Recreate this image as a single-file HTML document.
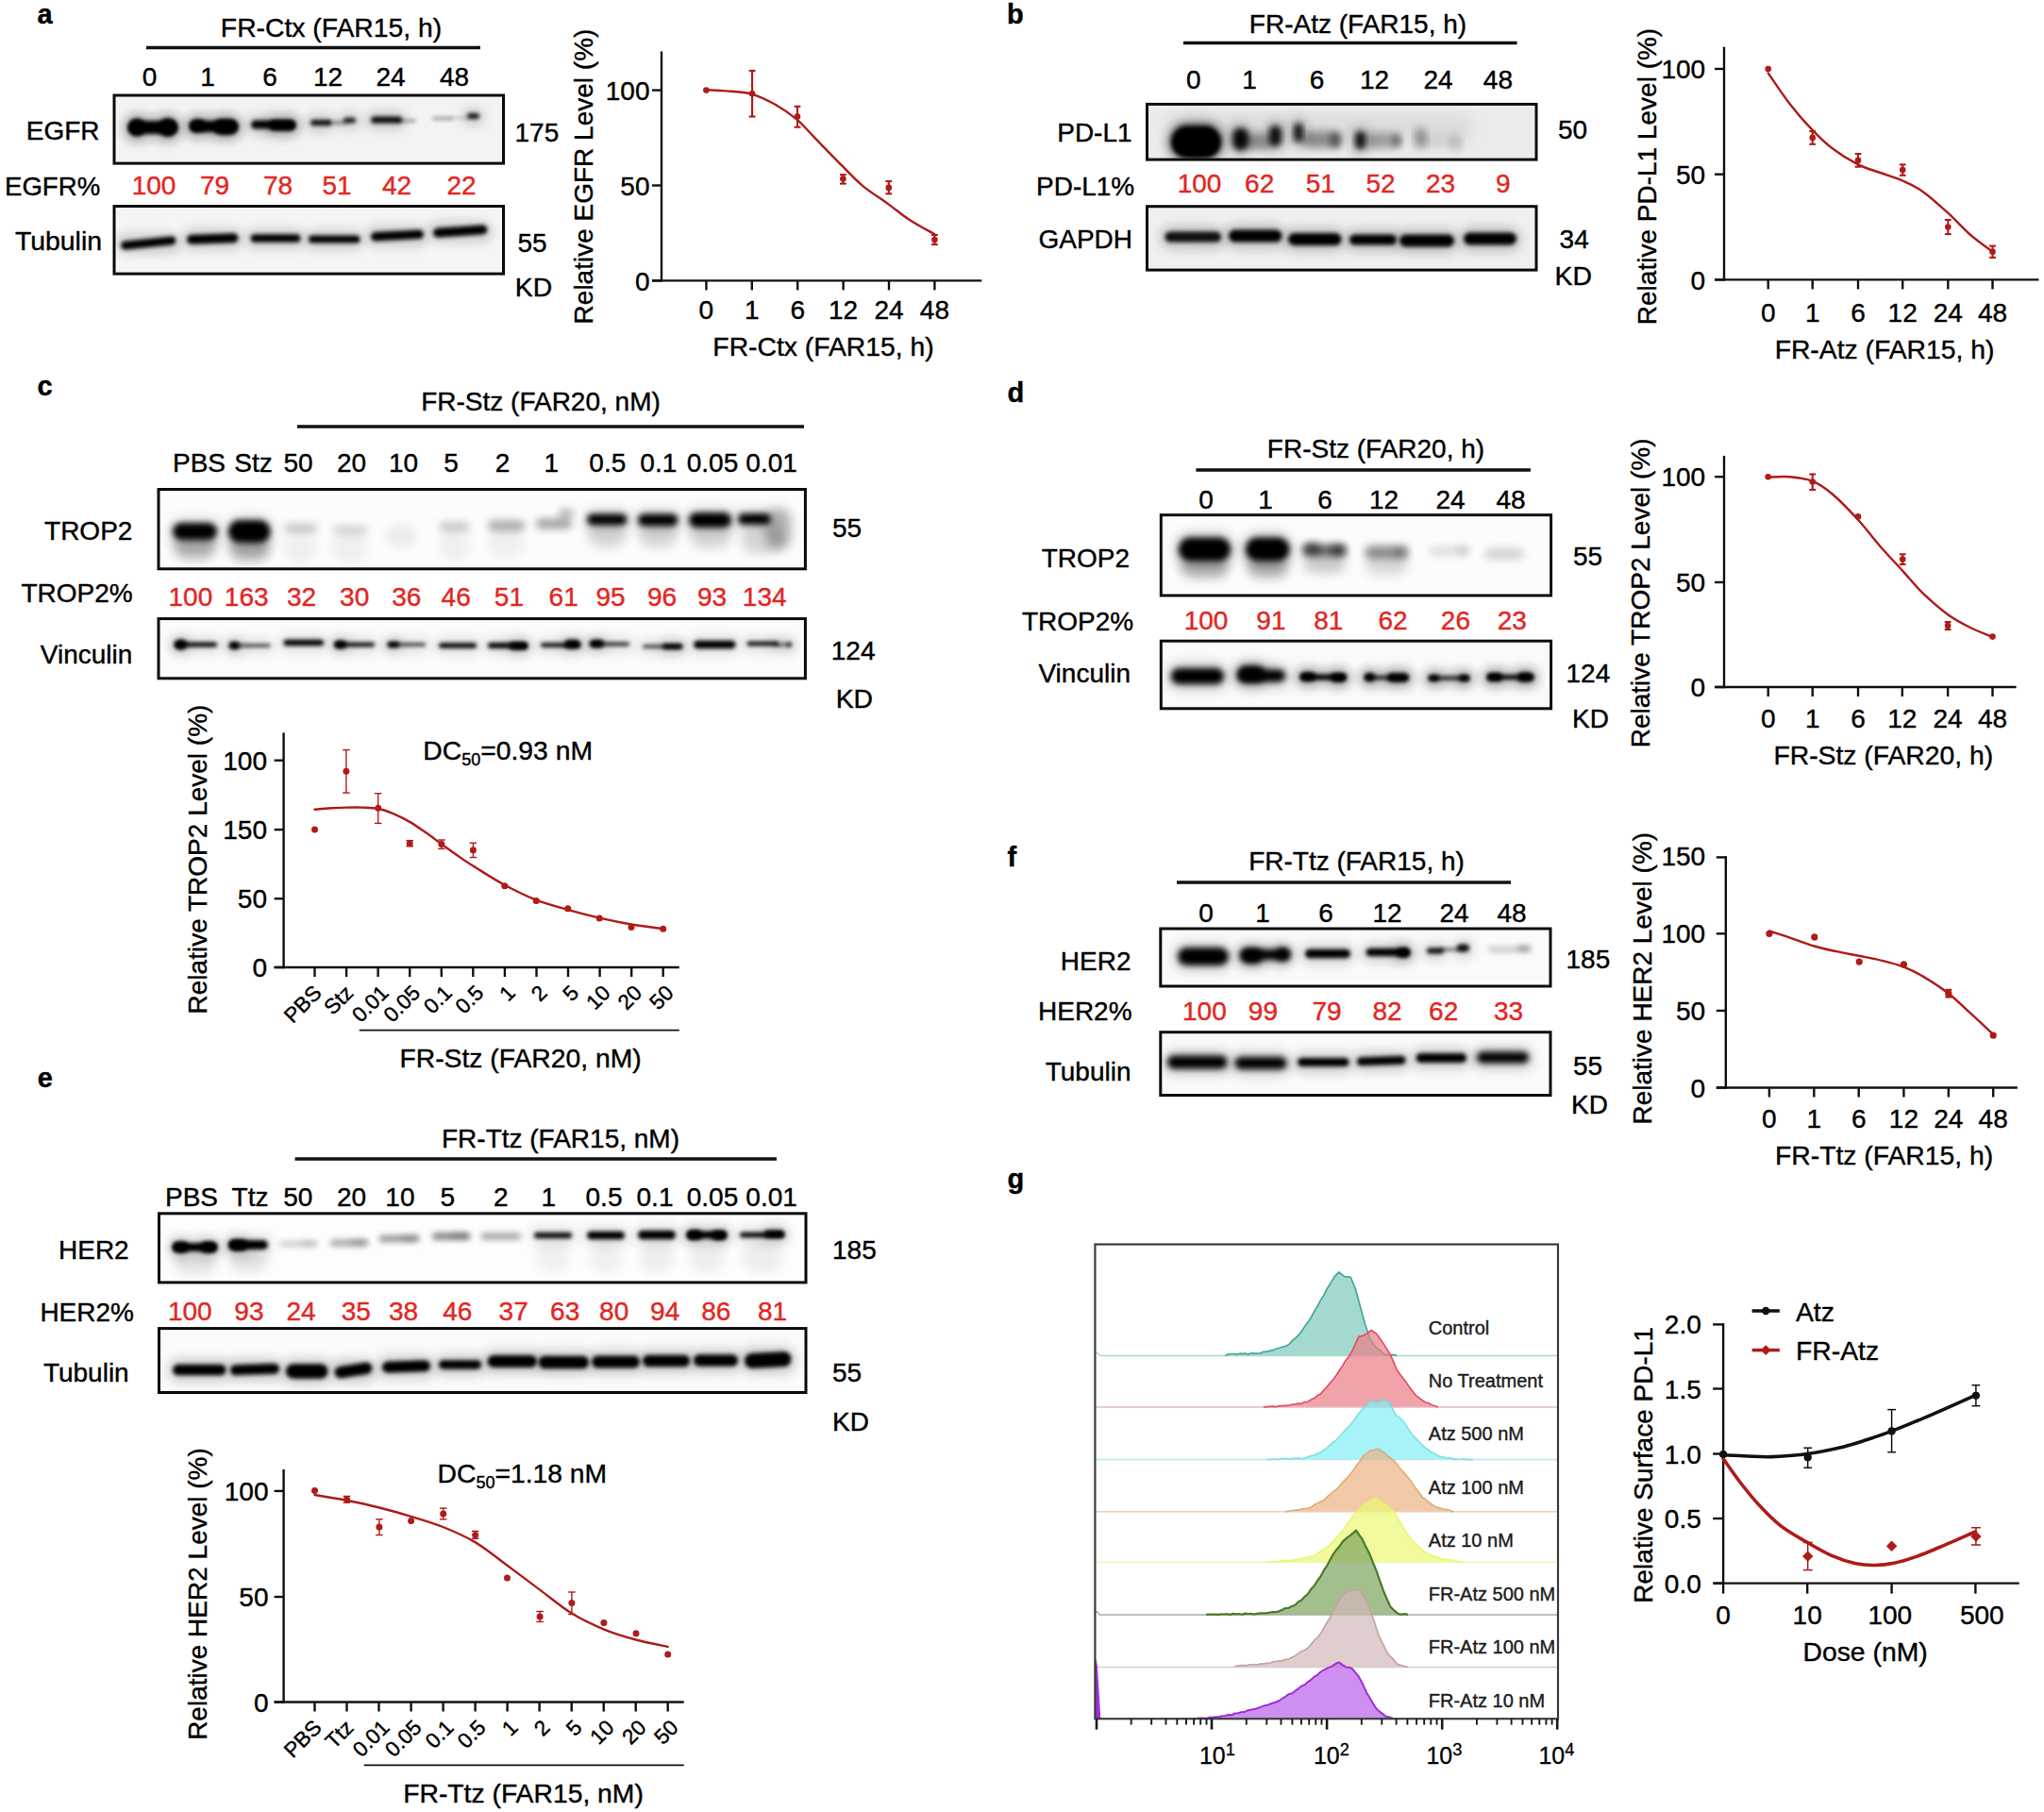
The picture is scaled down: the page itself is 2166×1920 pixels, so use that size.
<!DOCTYPE html>
<html lang="en"><head><meta charset="utf-8"><title>Figure</title>
<style>
html,body{margin:0;padding:0;background:#fff;}
svg{display:block;font-family:"Liberation Sans",Arial,Helvetica,sans-serif;}
</style></head><body>
<svg width="2166" height="1920" viewBox="0 0 2166 1920">
<defs>
<filter id="b2" x="-30%" y="-150%" width="160%" height="400%"><feGaussianBlur stdDeviation="2"/></filter>
<filter id="b3" x="-30%" y="-150%" width="160%" height="400%"><feGaussianBlur stdDeviation="3"/></filter>
<filter id="b4" x="-30%" y="-150%" width="160%" height="400%"><feGaussianBlur stdDeviation="4"/></filter>
<filter id="b6" x="-40%" y="-200%" width="180%" height="500%"><feGaussianBlur stdDeviation="6"/></filter>
<filter id="b9" x="-50%" y="-200%" width="200%" height="500%"><feGaussianBlur stdDeviation="9"/></filter>
</defs>
<rect width="2166" height="1920" fill="#fff"/>

<text x="39.6" y="25.0" font-size="29" font-weight="bold" stroke="#000" stroke-width="0.4">a</text>
<text x="1067.0" y="25.2" font-size="29" font-weight="bold" stroke="#000" stroke-width="0.4">b</text>
<text x="39.6" y="418.8" font-size="29" font-weight="bold" stroke="#000" stroke-width="0.4">c</text>
<text x="1067.4" y="426.4" font-size="29" font-weight="bold" stroke="#000" stroke-width="0.4">d</text>
<text x="39.7" y="1152.4" font-size="29" font-weight="bold" stroke="#000" stroke-width="0.4">e</text>
<text x="1067.6" y="917.9" font-size="29" font-weight="bold" stroke="#000" stroke-width="0.4">f</text>
<text x="1067.4" y="1258.6" font-size="29" font-weight="bold" stroke="#000" stroke-width="0.4">g</text>
<text x="351.0" y="39.2" font-size="28.3" text-anchor="middle" stroke="#000" stroke-width="0.4">FR-Ctx (FAR15, h)</text>
<line x1="155.0" y1="50.5" x2="509.0" y2="50.5" stroke="#111" stroke-width="3.4"/>
<text x="158.5" y="91.3" font-size="28" text-anchor="middle" stroke="#000" stroke-width="0.4">0</text>
<text x="220.0" y="91.3" font-size="28" text-anchor="middle" stroke="#000" stroke-width="0.4">1</text>
<text x="286.0" y="91.3" font-size="28" text-anchor="middle" stroke="#000" stroke-width="0.4">6</text>
<text x="347.5" y="91.3" font-size="28" text-anchor="middle" stroke="#000" stroke-width="0.4">12</text>
<text x="414.0" y="91.3" font-size="28" text-anchor="middle" stroke="#000" stroke-width="0.4">24</text>
<text x="481.5" y="91.3" font-size="28" text-anchor="middle" stroke="#000" stroke-width="0.4">48</text>
<clipPath id="c16"><rect x="121" y="101" width="412.5" height="72.1"/></clipPath>
<rect x="121" y="101" width="412.5" height="72.1" fill="#f3f3f3"/>
<g clip-path="url(#c16)">
<rect x="131.0" y="122.0" width="62.0" height="27.0" rx="13.0" fill="#000" opacity="0.16" filter="url(#b6)"/>
<rect x="131.0" y="119.5" width="28.0" height="32.0" rx="15.5" fill="#000" opacity="0.16" filter="url(#b6)"/>
<rect x="163.0" y="119.0" width="30.0" height="33.0" rx="16.0" fill="#000" opacity="0.16" filter="url(#b6)"/>
<rect x="196.0" y="122.0" width="61.0" height="25.0" rx="12.0" fill="#000" opacity="0.16" filter="url(#b6)"/>
<rect x="221.0" y="120.0" width="36.0" height="30.0" rx="14.5" fill="#000" opacity="0.16" filter="url(#b6)"/>
<rect x="196.0" y="120.5" width="27.0" height="26.0" rx="12.5" fill="#000" opacity="0.16" filter="url(#b6)"/>
<rect x="261.0" y="121.5" width="57.0" height="22.0" rx="10.5" fill="#000" opacity="0.16" filter="url(#b6)"/>
<rect x="280.0" y="121.5" width="38.0" height="24.0" rx="11.5" fill="#000" opacity="0.16" filter="url(#b6)"/>
<rect x="324.0" y="121.0" width="32.0" height="19.0" rx="9.0" fill="#000" opacity="0.16" filter="url(#b6)"/>
<rect x="359.0" y="118.8" width="23.0" height="18.5" rx="8.8" fill="#000" opacity="0.16" filter="url(#b6)"/>
<rect x="388.0" y="117.5" width="43.0" height="20.0" rx="9.5" fill="#000" opacity="0.16" filter="url(#b6)"/>
<rect x="490.0" y="114.0" width="23.0" height="19.0" rx="9.0" fill="#000" opacity="0.16" filter="url(#b6)"/>
<rect x="136.0" y="128.0" width="52.0" height="14.0" rx="7.0" fill="#000" opacity="1.0" filter="url(#b2)"/>
<rect x="136.0" y="125.5" width="18.0" height="19.0" rx="9.0" fill="#000" opacity="1.0" filter="url(#b2)"/>
<rect x="168.0" y="125.0" width="20.0" height="20.0" rx="10.0" fill="#000" opacity="1.0" filter="url(#b2)"/>
<rect x="201.0" y="128.0" width="51.0" height="12.0" rx="6.0" fill="#000" opacity="1.0" filter="url(#b2)"/>
<rect x="226.0" y="126.0" width="26.0" height="17.0" rx="8.5" fill="#000" opacity="1.0" filter="url(#b2)"/>
<rect x="201.0" y="126.5" width="17.0" height="13.0" rx="6.5" fill="#000" opacity="1.0" filter="url(#b2)"/>
<rect x="266.0" y="127.5" width="47.0" height="9.0" rx="4.5" fill="#000" opacity="1.0" filter="url(#b2)"/>
<rect x="285.0" y="127.5" width="28.0" height="11.0" rx="5.5" fill="#000" opacity="1.0" filter="url(#b2)"/>
<rect x="329.0" y="127.0" width="22.0" height="6.0" rx="3.0" fill="#000" opacity="0.95" filter="url(#b2)"/>
<rect x="346.0" y="128.5" width="22.0" height="3.0" rx="1.5" fill="#000" opacity="0.5" filter="url(#b2)"/>
<rect x="364.0" y="124.8" width="13.0" height="5.5" rx="2.8" fill="#000" opacity="0.9" filter="url(#b2)"/>
<rect x="393.0" y="123.5" width="33.0" height="7.0" rx="3.5" fill="#000" opacity="0.95" filter="url(#b2)"/>
<rect x="420.0" y="126.5" width="21.0" height="3.0" rx="1.5" fill="#000" opacity="0.4" filter="url(#b2)"/>
<rect x="458.0" y="123.8" width="22.0" height="3.5" rx="1.8" fill="#000" opacity="0.35" filter="url(#b2)"/>
<rect x="476.0" y="123.8" width="22.0" height="2.5" rx="1.2" fill="#000" opacity="0.2" filter="url(#b2)"/>
<rect x="495.0" y="120.0" width="13.0" height="6.0" rx="3.0" fill="#000" opacity="0.9" filter="url(#b2)"/>
</g>
<rect x="121" y="101" width="412.5" height="72.1" fill="none" stroke="#0a0a0a" stroke-width="3"/>
<text x="105.5" y="148.0" font-size="28" text-anchor="end" stroke="#000" stroke-width="0.4">EGFR</text>
<text x="545.5" y="150.0" font-size="28" stroke="#000" stroke-width="0.4">175</text>
<text x="5.0" y="207.0" font-size="27.6" stroke="#000" stroke-width="0.4">EGFR%</text>
<text x="163.0" y="206.0" font-size="28" text-anchor="middle" fill="#e3261f" stroke="#e3261f" stroke-width="0.4">100</text>
<text x="227.5" y="206.0" font-size="28" text-anchor="middle" fill="#e3261f" stroke="#e3261f" stroke-width="0.4">79</text>
<text x="294.5" y="206.0" font-size="28" text-anchor="middle" fill="#e3261f" stroke="#e3261f" stroke-width="0.4">78</text>
<text x="357.0" y="206.0" font-size="28" text-anchor="middle" fill="#e3261f" stroke="#e3261f" stroke-width="0.4">51</text>
<text x="420.5" y="206.0" font-size="28" text-anchor="middle" fill="#e3261f" stroke="#e3261f" stroke-width="0.4">42</text>
<text x="489.0" y="206.0" font-size="28" text-anchor="middle" fill="#e3261f" stroke="#e3261f" stroke-width="0.4">22</text>
<clipPath id="c58"><rect x="121" y="218.5" width="412.5" height="71.6"/></clipPath>
<rect x="121" y="218.5" width="412.5" height="71.6" fill="#f5f5f5"/>
<g clip-path="url(#c58)">
<rect x="123.0" y="247.0" width="68.5" height="22.0" rx="10.5" fill="#000" opacity="0.16" filter="url(#b6)"/>
<rect x="193.0" y="242.0" width="64.5" height="23.0" rx="11.0" fill="#000" opacity="0.16" filter="url(#b6)"/>
<rect x="260.5" y="242.2" width="63.0" height="21.5" rx="10.2" fill="#000" opacity="0.16" filter="url(#b6)"/>
<rect x="322.0" y="243.5" width="64.5" height="21.0" rx="10.0" fill="#000" opacity="0.16" filter="url(#b6)"/>
<rect x="388.0" y="238.8" width="66.0" height="22.5" rx="10.8" fill="#000" opacity="0.16" filter="url(#b6)"/>
<rect x="454.0" y="234.0" width="67.5" height="23.0" rx="11.0" fill="#000" opacity="0.16" filter="url(#b6)"/>
<rect x="128.0" y="253.0" width="58.5" height="9.0" rx="4.5" fill="#000" opacity="1" filter="url(#b2)" transform="rotate(-6 157.2 257.5)"/>
<rect x="198.0" y="248.0" width="54.5" height="10.0" rx="5.0" fill="#000" opacity="1" filter="url(#b2)" transform="rotate(-2 225.2 253.0)"/>
<rect x="265.5" y="248.2" width="53.0" height="8.5" rx="4.2" fill="#000" opacity="1.0" filter="url(#b2)"/>
<rect x="327.0" y="249.5" width="54.5" height="8.0" rx="4.0" fill="#000" opacity="1.0" filter="url(#b2)"/>
<rect x="393.0" y="244.8" width="56.0" height="9.5" rx="4.8" fill="#000" opacity="1" filter="url(#b2)" transform="rotate(-3 421.0 249.5)"/>
<rect x="459.0" y="240.0" width="57.5" height="10.0" rx="5.0" fill="#000" opacity="1" filter="url(#b2)" transform="rotate(-4 487.8 245.0)"/>
</g>
<rect x="121" y="218.5" width="412.5" height="71.6" fill="none" stroke="#0a0a0a" stroke-width="3"/>
<text x="108.0" y="264.5" font-size="28.4" text-anchor="end" stroke="#000" stroke-width="0.4">Tubulin</text>
<text x="548.4" y="266.5" font-size="28" stroke="#000" stroke-width="0.4">55</text>
<text x="545.8" y="313.8" font-size="28.4" stroke="#000" stroke-width="0.4">KD</text>
<line x1="701.0" y1="54.4" x2="701.0" y2="298.6" stroke="#111" stroke-width="2.4"/>
<line x1="691.0" y1="297.4" x2="1040.3" y2="297.4" stroke="#111" stroke-width="2.4"/>
<line x1="691.0" y1="95.6" x2="701.0" y2="95.6" stroke="#111" stroke-width="2.4"/>
<line x1="691.0" y1="196.5" x2="701.0" y2="196.5" stroke="#111" stroke-width="2.4"/>
<line x1="691.0" y1="297.4" x2="701.0" y2="297.4" stroke="#111" stroke-width="2.4"/>
<line x1="748.4" y1="297.4" x2="748.4" y2="307.4" stroke="#111" stroke-width="2.4"/>
<line x1="796.8" y1="297.4" x2="796.8" y2="307.4" stroke="#111" stroke-width="2.4"/>
<line x1="845.2" y1="297.4" x2="845.2" y2="307.4" stroke="#111" stroke-width="2.4"/>
<line x1="893.6" y1="297.4" x2="893.6" y2="307.4" stroke="#111" stroke-width="2.4"/>
<line x1="942.0" y1="297.4" x2="942.0" y2="307.4" stroke="#111" stroke-width="2.4"/>
<line x1="990.4" y1="297.4" x2="990.4" y2="307.4" stroke="#111" stroke-width="2.4"/>
<text x="688.5" y="307.5" font-size="28" text-anchor="end" stroke="#000" stroke-width="0.4">0</text>
<text x="688.5" y="206.6" font-size="28" text-anchor="end" stroke="#000" stroke-width="0.4">50</text>
<text x="688.5" y="105.7" font-size="28" text-anchor="end" stroke="#000" stroke-width="0.4">100</text>
<text x="748.4" y="338.0" font-size="28" text-anchor="middle" stroke="#000" stroke-width="0.4">0</text>
<text x="796.8" y="338.0" font-size="28" text-anchor="middle" stroke="#000" stroke-width="0.4">1</text>
<text x="845.2" y="338.0" font-size="28" text-anchor="middle" stroke="#000" stroke-width="0.4">6</text>
<text x="893.6" y="338.0" font-size="28" text-anchor="middle" stroke="#000" stroke-width="0.4">12</text>
<text x="942.0" y="338.0" font-size="28" text-anchor="middle" stroke="#000" stroke-width="0.4">24</text>
<text x="990.4" y="338.0" font-size="28" text-anchor="middle" stroke="#000" stroke-width="0.4">48</text>
<text x="872.5" y="376.8" font-size="28.3" text-anchor="middle" stroke="#000" stroke-width="0.4">FR-Ctx (FAR15, h)</text>
<text x="628.0" y="187.0" font-size="28" text-anchor="middle" stroke="#000" stroke-width="0.4" transform="rotate(-90 628.0 187.0)">Relative EGFR Level (%)</text>
<path d="M748.4,95.1 C752.8,95.4 766.5,96.0 774.6,96.8 C782.7,97.6 789.2,97.4 797.1,99.8 C805.0,102.2 814.1,106.5 822.0,111.0 C829.9,115.5 837.4,120.7 844.5,126.7 C851.6,132.8 856.3,138.9 864.5,147.2 C872.6,155.5 884.8,168.1 893.1,176.4 C901.5,184.7 906.2,190.4 914.4,197.1 C922.5,203.8 933.5,210.5 941.8,216.6 C950.1,222.6 956.1,228.0 964.3,233.3 C972.4,238.6 986.1,245.8 990.4,248.3" fill="none" stroke="#ae1b19" stroke-width="2.4" stroke-linecap="round"/>
<circle cx="748.4" cy="95.6" r="3.3" fill="#ae1b19"/>
<line x1="797.1" y1="74.9" x2="797.1" y2="123.5" stroke="#ae1b19" stroke-width="2.1"/>
<line x1="793.7" y1="74.9" x2="800.5" y2="74.9" stroke="#ae1b19" stroke-width="2.1"/>
<line x1="793.7" y1="123.5" x2="800.5" y2="123.5" stroke="#ae1b19" stroke-width="2.1"/>
<circle cx="797.1" cy="99.3" r="3.3" fill="#ae1b19"/>
<line x1="845.0" y1="112.8" x2="845.0" y2="134.7" stroke="#ae1b19" stroke-width="2.1"/>
<line x1="841.6" y1="112.8" x2="848.4" y2="112.8" stroke="#ae1b19" stroke-width="2.1"/>
<line x1="841.6" y1="134.7" x2="848.4" y2="134.7" stroke="#ae1b19" stroke-width="2.1"/>
<circle cx="845.0" cy="123.5" r="3.3" fill="#ae1b19"/>
<line x1="893.4" y1="185.1" x2="893.4" y2="194.6" stroke="#ae1b19" stroke-width="2.1"/>
<line x1="890.0" y1="185.1" x2="896.8" y2="185.1" stroke="#ae1b19" stroke-width="2.1"/>
<line x1="890.0" y1="194.6" x2="896.8" y2="194.6" stroke="#ae1b19" stroke-width="2.1"/>
<circle cx="893.4" cy="189.6" r="3.3" fill="#ae1b19"/>
<line x1="941.8" y1="192.1" x2="941.8" y2="205.3" stroke="#ae1b19" stroke-width="2.1"/>
<line x1="938.4" y1="192.1" x2="945.2" y2="192.1" stroke="#ae1b19" stroke-width="2.1"/>
<line x1="938.4" y1="205.3" x2="945.2" y2="205.3" stroke="#ae1b19" stroke-width="2.1"/>
<circle cx="941.8" cy="198.9" r="3.3" fill="#ae1b19"/>
<line x1="990.4" y1="249.0" x2="990.4" y2="259.0" stroke="#ae1b19" stroke-width="2.1"/>
<line x1="987.0" y1="249.0" x2="993.8" y2="249.0" stroke="#ae1b19" stroke-width="2.1"/>
<line x1="987.0" y1="259.0" x2="993.8" y2="259.0" stroke="#ae1b19" stroke-width="2.1"/>
<circle cx="990.4" cy="254.0" r="3.3" fill="#ae1b19"/>
<text x="1439.0" y="34.5" font-size="28" text-anchor="middle" stroke="#000" stroke-width="0.4">FR-Atz (FAR15, h)</text>
<line x1="1254.0" y1="45.5" x2="1607.6" y2="45.5" stroke="#111" stroke-width="3.4"/>
<text x="1264.7" y="94.0" font-size="28" text-anchor="middle" stroke="#000" stroke-width="0.4">0</text>
<text x="1324.0" y="94.0" font-size="28" text-anchor="middle" stroke="#000" stroke-width="0.4">1</text>
<text x="1395.6" y="94.0" font-size="28" text-anchor="middle" stroke="#000" stroke-width="0.4">6</text>
<text x="1456.5" y="94.0" font-size="28" text-anchor="middle" stroke="#000" stroke-width="0.4">12</text>
<text x="1524.0" y="94.0" font-size="28" text-anchor="middle" stroke="#000" stroke-width="0.4">24</text>
<text x="1587.4" y="94.0" font-size="28" text-anchor="middle" stroke="#000" stroke-width="0.4">48</text>
<clipPath id="c130"><rect x="1215.5" y="110.4" width="412.5" height="58.7"/></clipPath>
<rect x="1215.5" y="110.4" width="412.5" height="58.7" fill="#ebebeb"/>
<g clip-path="url(#c130)">
<rect x="1236.0" y="127.0" width="63.0" height="47.0" rx="23.0" fill="#000" opacity="0.2" filter="url(#b6)"/>
<rect x="1238.0" y="130.0" width="59.0" height="43.0" rx="21.0" fill="#000" opacity="0.2" filter="url(#b6)"/>
<rect x="1301.0" y="129.5" width="27.0" height="37.0" rx="18.0" fill="#000" opacity="0.2" filter="url(#b6)"/>
<rect x="1340.0" y="127.0" width="23.0" height="35.0" rx="17.0" fill="#000" opacity="0.2" filter="url(#b6)"/>
<rect x="1366.0" y="124.5" width="20.0" height="33.0" rx="16.0" fill="#000" opacity="0.2" filter="url(#b6)"/>
<rect x="1431.0" y="133.0" width="21.0" height="32.0" rx="15.5" fill="#000" opacity="0.2" filter="url(#b6)"/>
<rect x="1241.0" y="133.0" width="53.0" height="34.0" rx="17.0" fill="#000" opacity="1" filter="url(#b3)"/>
<rect x="1243.0" y="136.0" width="49.0" height="30.0" rx="15.0" fill="#000" opacity="1" filter="url(#b2)"/>
<rect x="1306.0" y="135.5" width="17.0" height="24.0" rx="8.5" fill="#000" opacity="0.95" filter="url(#b3)"/>
<rect x="1318.0" y="141.0" width="32.0" height="18.0" rx="9.0" fill="#000" opacity="0.36" filter="url(#b4)"/>
<rect x="1345.0" y="133.0" width="13.0" height="22.0" rx="6.5" fill="#000" opacity="0.9" filter="url(#b3)"/>
<rect x="1371.0" y="130.5" width="10.0" height="20.0" rx="5.0" fill="#000" opacity="0.85" filter="url(#b3)"/>
<rect x="1379.0" y="139.0" width="43.0" height="18.0" rx="9.0" fill="#000" opacity="0.38" filter="url(#b4)"/>
<rect x="1409.0" y="140.0" width="12.0" height="17.0" rx="6.0" fill="#000" opacity="0.38" filter="url(#b3)"/>
<rect x="1436.0" y="139.0" width="11.0" height="19.0" rx="5.5" fill="#000" opacity="0.9" filter="url(#b3)"/>
<rect x="1445.0" y="140.5" width="40.0" height="17.0" rx="8.5" fill="#000" opacity="0.3" filter="url(#b4)"/>
<rect x="1475.0" y="142.0" width="10.0" height="14.0" rx="5.0" fill="#000" opacity="0.3" filter="url(#b3)"/>
<rect x="1499.0" y="135.5" width="13.0" height="22.0" rx="6.5" fill="#000" opacity="0.36" filter="url(#b4)"/>
<rect x="1510.0" y="143.0" width="30.0" height="14.0" rx="7.0" fill="#000" opacity="0.08" filter="url(#b4)"/>
<rect x="1537.0" y="142.0" width="12.0" height="18.0" rx="6.0" fill="#000" opacity="0.18" filter="url(#b4)"/>
<rect x="1236.0" y="123.0" width="324.0" height="26.0" rx="13.0" fill="#000" opacity="0.07" filter="url(#b9)"/>
</g>
<rect x="1215.5" y="110.4" width="412.5" height="58.7" fill="none" stroke="#0a0a0a" stroke-width="3"/>
<text x="1199.6" y="150.0" font-size="28" text-anchor="end" stroke="#000" stroke-width="0.4">PD-L1</text>
<text x="1651.0" y="147.0" font-size="28" stroke="#000" stroke-width="0.4">50</text>
<text x="1098.0" y="207.0" font-size="28" stroke="#000" stroke-width="0.4">PD-L1%</text>
<text x="1271.0" y="204.0" font-size="28" text-anchor="middle" fill="#e3261f" stroke="#e3261f" stroke-width="0.4">100</text>
<text x="1334.7" y="204.0" font-size="28" text-anchor="middle" fill="#e3261f" stroke="#e3261f" stroke-width="0.4">62</text>
<text x="1399.3" y="204.0" font-size="28" text-anchor="middle" fill="#e3261f" stroke="#e3261f" stroke-width="0.4">51</text>
<text x="1463.0" y="204.0" font-size="28" text-anchor="middle" fill="#e3261f" stroke="#e3261f" stroke-width="0.4">52</text>
<text x="1526.5" y="204.0" font-size="28" text-anchor="middle" fill="#e3261f" stroke="#e3261f" stroke-width="0.4">23</text>
<text x="1592.7" y="204.0" font-size="28" text-anchor="middle" fill="#e3261f" stroke="#e3261f" stroke-width="0.4">9</text>
<clipPath id="c165"><rect x="1215.5" y="218.7" width="412.5" height="67.4"/></clipPath>
<rect x="1215.5" y="218.7" width="412.5" height="67.4" fill="#f0f0f0"/>
<g clip-path="url(#c165)">
<rect x="1229.5" y="239.5" width="69.5" height="24.0" rx="11.5" fill="#000" opacity="0.2" filter="url(#b6)"/>
<rect x="1297.0" y="237.5" width="66.5" height="26.0" rx="12.5" fill="#000" opacity="0.2" filter="url(#b6)"/>
<rect x="1360.0" y="241.0" width="66.5" height="26.0" rx="12.5" fill="#000" opacity="0.2" filter="url(#b6)"/>
<rect x="1425.0" y="242.5" width="60.0" height="24.0" rx="11.5" fill="#000" opacity="0.2" filter="url(#b6)"/>
<rect x="1478.0" y="242.5" width="68.0" height="26.0" rx="12.5" fill="#000" opacity="0.2" filter="url(#b6)"/>
<rect x="1546.0" y="240.5" width="66.0" height="26.0" rx="12.5" fill="#000" opacity="0.2" filter="url(#b6)"/>
<rect x="1234.5" y="245.5" width="59.5" height="11.0" rx="5.5" fill="#000" opacity="0.93" filter="url(#b2)"/>
<rect x="1302.0" y="243.5" width="56.5" height="13.0" rx="6.5" fill="#000" opacity="1.0" filter="url(#b2)"/>
<rect x="1365.0" y="247.0" width="56.5" height="13.0" rx="6.5" fill="#000" opacity="1.0" filter="url(#b2)"/>
<rect x="1430.0" y="248.5" width="50.0" height="11.0" rx="5.5" fill="#000" opacity="1.0" filter="url(#b2)"/>
<rect x="1483.0" y="248.5" width="58.0" height="13.0" rx="6.5" fill="#000" opacity="1.0" filter="url(#b2)"/>
<rect x="1551.0" y="246.5" width="56.0" height="13.0" rx="6.5" fill="#000" opacity="1.0" filter="url(#b2)"/>
</g>
<rect x="1215.5" y="218.7" width="412.5" height="67.4" fill="none" stroke="#0a0a0a" stroke-width="3"/>
<text x="1200.0" y="263.0" font-size="28" text-anchor="end" stroke="#000" stroke-width="0.4">GAPDH</text>
<text x="1652.6" y="263.0" font-size="28" stroke="#000" stroke-width="0.4">34</text>
<text x="1647.5" y="302.2" font-size="28.4" stroke="#000" stroke-width="0.4">KD</text>
<line x1="1827.0" y1="49.7" x2="1827.0" y2="297.6" stroke="#111" stroke-width="2.4"/>
<line x1="1817.0" y1="296.4" x2="2160.5" y2="296.4" stroke="#111" stroke-width="2.4"/>
<line x1="1817.0" y1="73.0" x2="1827.0" y2="73.0" stroke="#111" stroke-width="2.4"/>
<line x1="1817.0" y1="184.7" x2="1827.0" y2="184.7" stroke="#111" stroke-width="2.4"/>
<line x1="1817.0" y1="296.4" x2="1827.0" y2="296.4" stroke="#111" stroke-width="2.4"/>
<line x1="1873.7" y1="296.4" x2="1873.7" y2="306.4" stroke="#111" stroke-width="2.4"/>
<line x1="1920.7" y1="296.4" x2="1920.7" y2="306.4" stroke="#111" stroke-width="2.4"/>
<line x1="1969.0" y1="296.4" x2="1969.0" y2="306.4" stroke="#111" stroke-width="2.4"/>
<line x1="2016.2" y1="296.4" x2="2016.2" y2="306.4" stroke="#111" stroke-width="2.4"/>
<line x1="2064.3" y1="296.4" x2="2064.3" y2="306.4" stroke="#111" stroke-width="2.4"/>
<line x1="2111.5" y1="296.4" x2="2111.5" y2="306.4" stroke="#111" stroke-width="2.4"/>
<text x="1807.2" y="306.5" font-size="28" text-anchor="end" stroke="#000" stroke-width="0.4">0</text>
<text x="1807.2" y="194.8" font-size="28" text-anchor="end" stroke="#000" stroke-width="0.4">50</text>
<text x="1807.2" y="83.1" font-size="28" text-anchor="end" stroke="#000" stroke-width="0.4">100</text>
<text x="1873.7" y="341.4" font-size="28" text-anchor="middle" stroke="#000" stroke-width="0.4">0</text>
<text x="1920.7" y="341.4" font-size="28" text-anchor="middle" stroke="#000" stroke-width="0.4">1</text>
<text x="1969.0" y="341.4" font-size="28" text-anchor="middle" stroke="#000" stroke-width="0.4">6</text>
<text x="2016.2" y="341.4" font-size="28" text-anchor="middle" stroke="#000" stroke-width="0.4">12</text>
<text x="2064.3" y="341.4" font-size="28" text-anchor="middle" stroke="#000" stroke-width="0.4">24</text>
<text x="2111.5" y="341.4" font-size="28" text-anchor="middle" stroke="#000" stroke-width="0.4">48</text>
<text x="1997.0" y="380.0" font-size="28.3" text-anchor="middle" stroke="#000" stroke-width="0.4">FR-Atz (FAR15, h)</text>
<text x="1755.0" y="187.0" font-size="28" text-anchor="middle" stroke="#000" stroke-width="0.4" transform="rotate(-90 1755.0 187.0)">Relative PD-L1 Level (%)</text>
<path d="M1873.7,77.5 C1877.5,82.8 1888.3,99.4 1896.1,109.4 C1903.9,119.5 1913.1,130.0 1920.7,137.9 C1928.3,145.9 1933.6,151.2 1941.7,157.3 C1949.7,163.4 1960.3,170.0 1969.0,174.4 C1977.8,178.8 1986.3,180.7 1994.1,183.5 C2002.0,186.4 2009.0,188.3 2016.2,191.5 C2023.5,194.7 2029.4,197.2 2037.4,202.9 C2045.5,208.6 2056.0,218.1 2064.3,225.7 C2072.7,233.3 2079.7,241.7 2087.6,248.5 C2095.5,255.4 2107.5,263.7 2111.5,266.8" fill="none" stroke="#ae1b19" stroke-width="2.4" stroke-linecap="round"/>
<circle cx="1873.7" cy="73.0" r="3.3" fill="#ae1b19"/>
<line x1="1920.7" y1="139.1" x2="1920.7" y2="152.8" stroke="#ae1b19" stroke-width="2.1"/>
<line x1="1917.3" y1="139.1" x2="1924.1" y2="139.1" stroke="#ae1b19" stroke-width="2.1"/>
<line x1="1917.3" y1="152.8" x2="1924.1" y2="152.8" stroke="#ae1b19" stroke-width="2.1"/>
<circle cx="1920.7" cy="145.9" r="3.3" fill="#ae1b19"/>
<line x1="1969.0" y1="163.0" x2="1969.0" y2="176.7" stroke="#ae1b19" stroke-width="2.1"/>
<line x1="1965.6" y1="163.0" x2="1972.4" y2="163.0" stroke="#ae1b19" stroke-width="2.1"/>
<line x1="1965.6" y1="176.7" x2="1972.4" y2="176.7" stroke="#ae1b19" stroke-width="2.1"/>
<circle cx="1969.0" cy="169.9" r="3.3" fill="#ae1b19"/>
<line x1="2016.2" y1="174.4" x2="2016.2" y2="185.8" stroke="#ae1b19" stroke-width="2.1"/>
<line x1="2012.8" y1="174.4" x2="2019.6" y2="174.4" stroke="#ae1b19" stroke-width="2.1"/>
<line x1="2012.8" y1="185.8" x2="2019.6" y2="185.8" stroke="#ae1b19" stroke-width="2.1"/>
<circle cx="2016.2" cy="180.1" r="3.3" fill="#ae1b19"/>
<line x1="2064.3" y1="233.0" x2="2064.3" y2="248.1" stroke="#ae1b19" stroke-width="2.1"/>
<line x1="2060.9" y1="233.0" x2="2067.7" y2="233.0" stroke="#ae1b19" stroke-width="2.1"/>
<line x1="2060.9" y1="248.1" x2="2067.7" y2="248.1" stroke="#ae1b19" stroke-width="2.1"/>
<circle cx="2064.3" cy="240.5" r="3.3" fill="#ae1b19"/>
<line x1="2111.5" y1="260.6" x2="2111.5" y2="272.9" stroke="#ae1b19" stroke-width="2.1"/>
<line x1="2108.1" y1="260.6" x2="2114.9" y2="260.6" stroke="#ae1b19" stroke-width="2.1"/>
<line x1="2108.1" y1="272.9" x2="2114.9" y2="272.9" stroke="#ae1b19" stroke-width="2.1"/>
<circle cx="2111.5" cy="266.8" r="3.3" fill="#ae1b19"/>
<text x="573.0" y="435.0" font-size="28" text-anchor="middle" stroke="#000" stroke-width="0.4">FR-Stz (FAR20, nM)</text>
<line x1="315.0" y1="452.0" x2="852.0" y2="452.0" stroke="#111" stroke-width="3.4"/>
<text x="211.0" y="500.0" font-size="28" text-anchor="middle" stroke="#000" stroke-width="0.4">PBS</text>
<text x="268.6" y="500.0" font-size="28" text-anchor="middle" stroke="#000" stroke-width="0.4">Stz</text>
<text x="316.0" y="500.0" font-size="28" text-anchor="middle" stroke="#000" stroke-width="0.4">50</text>
<text x="372.5" y="500.0" font-size="28" text-anchor="middle" stroke="#000" stroke-width="0.4">20</text>
<text x="427.6" y="500.0" font-size="28" text-anchor="middle" stroke="#000" stroke-width="0.4">10</text>
<text x="478.0" y="500.0" font-size="28" text-anchor="middle" stroke="#000" stroke-width="0.4">5</text>
<text x="532.5" y="500.0" font-size="28" text-anchor="middle" stroke="#000" stroke-width="0.4">2</text>
<text x="584.4" y="500.0" font-size="28" text-anchor="middle" stroke="#000" stroke-width="0.4">1</text>
<text x="643.8" y="500.0" font-size="28" text-anchor="middle" stroke="#000" stroke-width="0.4">0.5</text>
<text x="697.8" y="500.0" font-size="28" text-anchor="middle" stroke="#000" stroke-width="0.4">0.1</text>
<text x="755.0" y="500.0" font-size="28" text-anchor="middle" stroke="#000" stroke-width="0.4">0.05</text>
<text x="817.6" y="500.0" font-size="28" text-anchor="middle" stroke="#000" stroke-width="0.4">0.01</text>
<clipPath id="c243"><rect x="168" y="518.5" width="685.4" height="84.3"/></clipPath>
<rect x="168" y="518.5" width="685.4" height="84.3" fill="#fcfcfc"/>
<g clip-path="url(#c243)">
<rect x="178.0" y="548.0" width="57.0" height="31.0" rx="15.0" fill="#000" opacity="0.12" filter="url(#b6)"/>
<rect x="237.0" y="545.0" width="54.5" height="37.0" rx="18.0" fill="#000" opacity="0.12" filter="url(#b6)"/>
<rect x="617.0" y="538.5" width="52.5" height="25.0" rx="12.0" fill="#000" opacity="0.12" filter="url(#b6)"/>
<rect x="671.0" y="538.5" width="52.5" height="26.0" rx="12.5" fill="#000" opacity="0.12" filter="url(#b6)"/>
<rect x="725.0" y="537.0" width="55.0" height="29.0" rx="14.0" fill="#000" opacity="0.12" filter="url(#b6)"/>
<rect x="777.0" y="538.0" width="45.0" height="25.0" rx="12.0" fill="#000" opacity="0.12" filter="url(#b6)"/>
<rect x="183.0" y="554.0" width="47.0" height="18.0" rx="9.0" fill="#000" opacity="1" filter="url(#b3)"/>
<rect x="184.0" y="564.0" width="45.0" height="28.0" rx="14.0" fill="#000" opacity="0.3" filter="url(#b6)"/>
<rect x="242.0" y="551.0" width="44.5" height="24.0" rx="12.0" fill="#000" opacity="1" filter="url(#b3)"/>
<rect x="243.0" y="566.0" width="43.0" height="28.0" rx="14.0" fill="#000" opacity="0.32" filter="url(#b6)"/>
<rect x="301.0" y="555.0" width="35.0" height="9.0" rx="4.5" fill="#000" opacity="0.22" filter="url(#b4)"/>
<rect x="301.0" y="563.0" width="35.0" height="34.0" rx="17.0" fill="#000" opacity="0.05" filter="url(#b6)"/>
<rect x="352.0" y="557.0" width="38.0" height="9.0" rx="4.5" fill="#000" opacity="0.16" filter="url(#b4)"/>
<rect x="352.0" y="563.0" width="38.0" height="34.0" rx="17.0" fill="#000" opacity="0.05" filter="url(#b6)"/>
<rect x="409.0" y="556.0" width="33.0" height="24.0" rx="12.0" fill="#000" opacity="0.06" filter="url(#b4)"/>
<rect x="465.0" y="553.0" width="33.0" height="10.0" rx="5.0" fill="#000" opacity="0.2" filter="url(#b4)"/>
<rect x="465.0" y="561.0" width="33.0" height="34.0" rx="16.5" fill="#000" opacity="0.05" filter="url(#b6)"/>
<rect x="517.0" y="551.5" width="39.5" height="11.0" rx="5.5" fill="#000" opacity="0.32" filter="url(#b4)"/>
<rect x="517.0" y="561.0" width="39.0" height="30.0" rx="15.0" fill="#000" opacity="0.05" filter="url(#b6)"/>
<rect x="568.0" y="550.0" width="38.0" height="10.0" rx="5.0" fill="#000" opacity="0.38" filter="url(#b4)"/>
<rect x="592.0" y="539.5" width="16.0" height="9.0" rx="4.5" fill="#000" opacity="0.3" filter="url(#b4)"/>
<rect x="622.0" y="544.5" width="42.5" height="12.0" rx="6.0" fill="#000" opacity="1" filter="url(#b3)"/>
<rect x="623.0" y="552.0" width="41.0" height="28.0" rx="14.0" fill="#000" opacity="0.15" filter="url(#b6)"/>
<rect x="676.0" y="544.5" width="42.5" height="13.0" rx="6.5" fill="#000" opacity="1" filter="url(#b3)"/>
<rect x="677.0" y="552.0" width="41.0" height="28.0" rx="14.0" fill="#000" opacity="0.15" filter="url(#b6)"/>
<rect x="730.0" y="543.0" width="45.0" height="16.0" rx="8.0" fill="#000" opacity="1" filter="url(#b3)"/>
<rect x="731.0" y="553.0" width="44.0" height="28.0" rx="14.0" fill="#000" opacity="0.15" filter="url(#b6)"/>
<rect x="782.0" y="544.0" width="35.0" height="12.0" rx="6.0" fill="#000" opacity="1" filter="url(#b3)"/>
<rect x="812.0" y="538.0" width="26.0" height="44.0" rx="13.0" fill="#000" opacity="0.3" filter="url(#b6)"/>
<rect x="785.0" y="557.0" width="45.0" height="30.0" rx="15.0" fill="#000" opacity="0.15" filter="url(#b6)"/>
</g>
<rect x="168" y="518.5" width="685.4" height="84.3" fill="none" stroke="#0a0a0a" stroke-width="3"/>
<text x="140.4" y="571.7" font-size="28" text-anchor="end" stroke="#000" stroke-width="0.4">TROP2</text>
<text x="882.0" y="568.6" font-size="28" stroke="#000" stroke-width="0.4">55</text>
<text x="22.5" y="638.0" font-size="28" stroke="#000" stroke-width="0.4">TROP2%</text>
<text x="201.9" y="641.7" font-size="28" text-anchor="middle" fill="#e3261f" stroke="#e3261f" stroke-width="0.4">100</text>
<text x="261.2" y="641.7" font-size="28" text-anchor="middle" fill="#e3261f" stroke="#e3261f" stroke-width="0.4">163</text>
<text x="319.5" y="641.7" font-size="28" text-anchor="middle" fill="#e3261f" stroke="#e3261f" stroke-width="0.4">32</text>
<text x="375.7" y="641.7" font-size="28" text-anchor="middle" fill="#e3261f" stroke="#e3261f" stroke-width="0.4">30</text>
<text x="430.8" y="641.7" font-size="28" text-anchor="middle" fill="#e3261f" stroke="#e3261f" stroke-width="0.4">36</text>
<text x="483.2" y="641.7" font-size="28" text-anchor="middle" fill="#e3261f" stroke="#e3261f" stroke-width="0.4">46</text>
<text x="539.4" y="641.7" font-size="28" text-anchor="middle" fill="#e3261f" stroke="#e3261f" stroke-width="0.4">51</text>
<text x="597.2" y="641.7" font-size="28" text-anchor="middle" fill="#e3261f" stroke="#e3261f" stroke-width="0.4">61</text>
<text x="647.0" y="641.7" font-size="28" text-anchor="middle" fill="#e3261f" stroke="#e3261f" stroke-width="0.4">95</text>
<text x="701.5" y="641.7" font-size="28" text-anchor="middle" fill="#e3261f" stroke="#e3261f" stroke-width="0.4">96</text>
<text x="754.5" y="641.7" font-size="28" text-anchor="middle" fill="#e3261f" stroke="#e3261f" stroke-width="0.4">93</text>
<text x="810.2" y="641.7" font-size="28" text-anchor="middle" fill="#e3261f" stroke="#e3261f" stroke-width="0.4">134</text>
<clipPath id="c293"><rect x="168" y="655.6" width="685.4" height="63.2"/></clipPath>
<rect x="168" y="655.6" width="685.4" height="63.2" fill="#fbfbfb"/>
<g clip-path="url(#c293)">
<rect x="180.0" y="674.5" width="55.0" height="18.0" rx="8.5" fill="#000" opacity="0.1" filter="url(#b6)"/>
<rect x="180.0" y="671.5" width="23.0" height="24.0" rx="11.5" fill="#000" opacity="0.1" filter="url(#b6)"/>
<rect x="238.0" y="676.5" width="53.5" height="16.0" rx="7.5" fill="#000" opacity="0.1" filter="url(#b6)"/>
<rect x="238.0" y="674.0" width="21.0" height="21.0" rx="10.0" fill="#000" opacity="0.1" filter="url(#b6)"/>
<rect x="295.5" y="671.8" width="52.5" height="19.5" rx="9.2" fill="#000" opacity="0.1" filter="url(#b6)"/>
<rect x="349.5" y="674.8" width="52.5" height="17.5" rx="8.2" fill="#000" opacity="0.1" filter="url(#b6)"/>
<rect x="349.5" y="672.8" width="22.5" height="21.5" rx="10.2" fill="#000" opacity="0.1" filter="url(#b6)"/>
<rect x="406.0" y="675.5" width="50.0" height="16.0" rx="7.5" fill="#000" opacity="0.1" filter="url(#b6)"/>
<rect x="406.0" y="674.0" width="22.0" height="19.0" rx="9.0" fill="#000" opacity="0.1" filter="url(#b6)"/>
<rect x="460.0" y="675.2" width="50.0" height="18.5" rx="8.8" fill="#000" opacity="0.1" filter="url(#b6)"/>
<rect x="512.0" y="675.0" width="52.0" height="19.0" rx="9.0" fill="#000" opacity="0.1" filter="url(#b6)"/>
<rect x="535.0" y="674.5" width="29.0" height="21.0" rx="10.0" fill="#000" opacity="0.1" filter="url(#b6)"/>
<rect x="568.0" y="675.2" width="52.0" height="17.5" rx="8.2" fill="#000" opacity="0.1" filter="url(#b6)"/>
<rect x="593.0" y="671.8" width="27.0" height="22.5" rx="10.8" fill="#000" opacity="0.1" filter="url(#b6)"/>
<rect x="620.0" y="674.8" width="52.0" height="16.5" rx="7.8" fill="#000" opacity="0.1" filter="url(#b6)"/>
<rect x="620.0" y="671.8" width="25.0" height="21.5" rx="10.2" fill="#000" opacity="0.1" filter="url(#b6)"/>
<rect x="676.0" y="677.5" width="52.0" height="16.0" rx="7.5" fill="#000" opacity="0.1" filter="url(#b6)"/>
<rect x="697.0" y="676.2" width="31.0" height="18.5" rx="8.8" fill="#000" opacity="0.1" filter="url(#b6)"/>
<rect x="730.0" y="672.8" width="54.5" height="21.5" rx="10.2" fill="#000" opacity="0.1" filter="url(#b6)"/>
<rect x="786.5" y="673.8" width="43.5" height="17.5" rx="8.2" fill="#000" opacity="0.1" filter="url(#b6)"/>
<rect x="815.0" y="675.8" width="28.0" height="15.5" rx="7.2" fill="#000" opacity="0.1" filter="url(#b6)"/>
<rect x="829.0" y="675.0" width="15.0" height="17.0" rx="8.0" fill="#000" opacity="0.1" filter="url(#b6)"/>
<rect x="185.0" y="680.5" width="45.0" height="5.0" rx="2.5" fill="#000" opacity="1.0" filter="url(#b2)"/>
<rect x="185.0" y="677.5" width="13.0" height="11.0" rx="5.5" fill="#000" opacity="1.0" filter="url(#b2)"/>
<rect x="243.0" y="682.5" width="43.5" height="3.0" rx="1.5" fill="#000" opacity="0.85" filter="url(#b2)"/>
<rect x="243.0" y="680.0" width="11.0" height="8.0" rx="4.0" fill="#000" opacity="1.0" filter="url(#b2)"/>
<rect x="300.5" y="677.8" width="42.5" height="6.5" rx="3.2" fill="#000" opacity="1.0" filter="url(#b2)"/>
<rect x="354.5" y="680.8" width="42.5" height="4.5" rx="2.2" fill="#000" opacity="1.0" filter="url(#b2)"/>
<rect x="354.5" y="678.8" width="12.5" height="8.5" rx="4.2" fill="#000" opacity="1.0" filter="url(#b2)"/>
<rect x="411.0" y="681.5" width="40.0" height="3.0" rx="1.5" fill="#000" opacity="0.9" filter="url(#b2)"/>
<rect x="411.0" y="680.0" width="12.0" height="6.0" rx="3.0" fill="#000" opacity="1.0" filter="url(#b2)"/>
<rect x="465.0" y="681.2" width="40.0" height="5.5" rx="2.8" fill="#000" opacity="1.0" filter="url(#b2)"/>
<rect x="517.0" y="681.0" width="42.0" height="6.0" rx="3.0" fill="#000" opacity="1.0" filter="url(#b2)"/>
<rect x="540.0" y="680.5" width="19.0" height="8.0" rx="4.0" fill="#000" opacity="1.0" filter="url(#b2)"/>
<rect x="573.0" y="681.2" width="42.0" height="4.5" rx="2.2" fill="#000" opacity="1.0" filter="url(#b2)"/>
<rect x="598.0" y="677.8" width="17.0" height="9.5" rx="4.8" fill="#000" opacity="1.0" filter="url(#b2)"/>
<rect x="625.0" y="680.8" width="42.0" height="3.5" rx="1.8" fill="#000" opacity="0.95" filter="url(#b2)"/>
<rect x="625.0" y="677.8" width="15.0" height="8.5" rx="4.2" fill="#000" opacity="1.0" filter="url(#b2)"/>
<rect x="681.0" y="683.5" width="42.0" height="3.0" rx="1.5" fill="#000" opacity="0.9" filter="url(#b2)"/>
<rect x="702.0" y="682.2" width="21.0" height="5.5" rx="2.8" fill="#000" opacity="1.0" filter="url(#b2)"/>
<rect x="735.0" y="678.8" width="44.5" height="8.5" rx="4.2" fill="#000" opacity="1.0" filter="url(#b2)"/>
<rect x="791.5" y="679.8" width="33.5" height="4.5" rx="2.2" fill="#000" opacity="1.0" filter="url(#b2)"/>
<rect x="820.0" y="681.8" width="18.0" height="2.5" rx="1.2" fill="#000" opacity="0.8" filter="url(#b2)"/>
<rect x="834.0" y="681.0" width="5.0" height="4.0" rx="2.0" fill="#000" opacity="0.9" filter="url(#b2)"/>
</g>
<rect x="168" y="655.6" width="685.4" height="63.2" fill="none" stroke="#0a0a0a" stroke-width="3"/>
<text x="140.4" y="702.6" font-size="28" text-anchor="end" stroke="#000" stroke-width="0.4">Vinculin</text>
<text x="880.8" y="698.8" font-size="28" stroke="#000" stroke-width="0.4">124</text>
<text x="885.7" y="749.5" font-size="28.4" stroke="#000" stroke-width="0.4">KD</text>
<line x1="300.6" y1="776.4" x2="300.6" y2="1026.2" stroke="#111" stroke-width="2.4"/>
<line x1="290.6" y1="1025.0" x2="719.8" y2="1025.0" stroke="#111" stroke-width="2.4"/>
<line x1="290.6" y1="805.7" x2="300.6" y2="805.7" stroke="#111" stroke-width="2.4"/>
<line x1="290.6" y1="879.1" x2="300.6" y2="879.1" stroke="#111" stroke-width="2.4"/>
<line x1="290.6" y1="952.2" x2="300.6" y2="952.2" stroke="#111" stroke-width="2.4"/>
<line x1="290.6" y1="1025.0" x2="300.6" y2="1025.0" stroke="#111" stroke-width="2.4"/>
<line x1="333.5" y1="1025.0" x2="333.5" y2="1035.0" stroke="#111" stroke-width="2.4"/>
<line x1="367.1" y1="1025.0" x2="367.1" y2="1035.0" stroke="#111" stroke-width="2.4"/>
<line x1="400.6" y1="1025.0" x2="400.6" y2="1035.0" stroke="#111" stroke-width="2.4"/>
<line x1="434.2" y1="1025.0" x2="434.2" y2="1035.0" stroke="#111" stroke-width="2.4"/>
<line x1="467.8" y1="1025.0" x2="467.8" y2="1035.0" stroke="#111" stroke-width="2.4"/>
<line x1="501.3" y1="1025.0" x2="501.3" y2="1035.0" stroke="#111" stroke-width="2.4"/>
<line x1="534.9" y1="1025.0" x2="534.9" y2="1035.0" stroke="#111" stroke-width="2.4"/>
<line x1="568.5" y1="1025.0" x2="568.5" y2="1035.0" stroke="#111" stroke-width="2.4"/>
<line x1="602.0" y1="1025.0" x2="602.0" y2="1035.0" stroke="#111" stroke-width="2.4"/>
<line x1="635.6" y1="1025.0" x2="635.6" y2="1035.0" stroke="#111" stroke-width="2.4"/>
<line x1="669.2" y1="1025.0" x2="669.2" y2="1035.0" stroke="#111" stroke-width="2.4"/>
<line x1="702.7" y1="1025.0" x2="702.7" y2="1035.0" stroke="#111" stroke-width="2.4"/>
<text x="283.0" y="815.8" font-size="28" text-anchor="end" stroke="#000" stroke-width="0.4">100</text>
<text x="283.0" y="889.2" font-size="28" text-anchor="end" stroke="#000" stroke-width="0.4">150</text>
<text x="283.0" y="962.3" font-size="28" text-anchor="end" stroke="#000" stroke-width="0.4">50</text>
<text x="283.0" y="1035.1" font-size="28" text-anchor="end" stroke="#000" stroke-width="0.4">0</text>
<text x="342.0" y="1053.5" font-size="22.5" text-anchor="end" stroke="#000" stroke-width="0.4" transform="rotate(-45 342.0 1053.5)">PBS</text>
<text x="375.6" y="1053.5" font-size="22.5" text-anchor="end" stroke="#000" stroke-width="0.4" transform="rotate(-45 375.6 1053.5)">Stz</text>
<text x="413.1" y="1053.5" font-size="22.5" text-anchor="end" stroke="#000" stroke-width="0.4" transform="rotate(-45 413.1 1053.5)">0.01</text>
<text x="446.7" y="1053.5" font-size="22.5" text-anchor="end" stroke="#000" stroke-width="0.4" transform="rotate(-45 446.7 1053.5)">0.05</text>
<text x="480.3" y="1053.5" font-size="22.5" text-anchor="end" stroke="#000" stroke-width="0.4" transform="rotate(-45 480.3 1053.5)">0.1</text>
<text x="513.8" y="1053.5" font-size="22.5" text-anchor="end" stroke="#000" stroke-width="0.4" transform="rotate(-45 513.8 1053.5)">0.5</text>
<text x="547.4" y="1053.5" font-size="22.5" text-anchor="end" stroke="#000" stroke-width="0.4" transform="rotate(-45 547.4 1053.5)">1</text>
<text x="581.0" y="1053.5" font-size="22.5" text-anchor="end" stroke="#000" stroke-width="0.4" transform="rotate(-45 581.0 1053.5)">2</text>
<text x="614.5" y="1053.5" font-size="22.5" text-anchor="end" stroke="#000" stroke-width="0.4" transform="rotate(-45 614.5 1053.5)">5</text>
<text x="648.1" y="1053.5" font-size="22.5" text-anchor="end" stroke="#000" stroke-width="0.4" transform="rotate(-45 648.1 1053.5)">10</text>
<text x="681.7" y="1053.5" font-size="22.5" text-anchor="end" stroke="#000" stroke-width="0.4" transform="rotate(-45 681.7 1053.5)">20</text>
<text x="715.2" y="1053.5" font-size="22.5" text-anchor="end" stroke="#000" stroke-width="0.4" transform="rotate(-45 715.2 1053.5)">50</text>
<line x1="380.7" y1="1091.6" x2="719.8" y2="1091.6" stroke="#111" stroke-width="1.8"/>
<text x="551.6" y="1130.6" font-size="28.3" text-anchor="middle" stroke="#000" stroke-width="0.4">FR-Stz (FAR20, nM)</text>
<text x="448.3" y="804.6" font-size="28.3" stroke="#000" stroke-width="0.4">DC<tspan font-size="18" dy="6">50</tspan><tspan dy="-6">=0.93 nM</tspan></text>
<text x="218.6" y="910.5" font-size="28" text-anchor="middle" stroke="#000" stroke-width="0.4" transform="rotate(-90 218.6 910.5)">Relative TROP2 Level (%)</text>
<path d="M333.5,857.7 C336.6,857.4 346.5,856.6 352.0,856.2 C357.5,855.9 361.3,855.7 366.7,855.6 C372.0,855.5 378.6,855.4 384.3,855.6 C389.9,855.8 395.0,855.7 400.4,856.8 C405.8,857.9 410.9,859.7 416.6,862.1 C422.2,864.4 428.3,867.5 434.2,870.9 C440.0,874.3 446.1,878.7 451.8,882.6 C457.4,886.5 462.5,890.5 467.9,894.4 C473.3,898.3 478.4,902.2 484.1,906.1 C489.7,910.0 493.2,912.6 501.7,917.8 C510.1,923.1 523.7,931.8 534.8,937.8 C545.9,943.8 557.2,949.3 568.3,953.7 C579.4,958.0 590.3,960.8 601.5,963.9 C612.6,967.1 624.0,970.1 635.2,972.7 C646.5,975.3 657.7,977.6 669.0,979.5 C680.2,981.4 697.1,983.4 702.7,984.2" fill="none" stroke="#ae1b19" stroke-width="2.4" stroke-linecap="round"/>
<circle cx="333.5" cy="879.1" r="3.5" fill="#ae1b19"/>
<line x1="366.9" y1="794.6" x2="366.9" y2="840.1" stroke="#ae1b19" stroke-width="1.4"/>
<line x1="363.1" y1="794.6" x2="370.7" y2="794.6" stroke="#ae1b19" stroke-width="1.4"/>
<line x1="363.1" y1="840.1" x2="370.7" y2="840.1" stroke="#ae1b19" stroke-width="1.4"/>
<circle cx="366.9" cy="817.2" r="3.5" fill="#ae1b19"/>
<line x1="400.7" y1="840.7" x2="400.7" y2="872.4" stroke="#ae1b19" stroke-width="1.4"/>
<line x1="396.9" y1="840.7" x2="404.5" y2="840.7" stroke="#ae1b19" stroke-width="1.4"/>
<line x1="396.9" y1="872.4" x2="404.5" y2="872.4" stroke="#ae1b19" stroke-width="1.4"/>
<circle cx="400.7" cy="856.2" r="3.5" fill="#ae1b19"/>
<line x1="434.2" y1="890.6" x2="434.2" y2="896.7" stroke="#ae1b19" stroke-width="1.4"/>
<line x1="430.4" y1="890.6" x2="438.0" y2="890.6" stroke="#ae1b19" stroke-width="1.4"/>
<line x1="430.4" y1="896.7" x2="438.0" y2="896.7" stroke="#ae1b19" stroke-width="1.4"/>
<circle cx="434.2" cy="893.8" r="3.5" fill="#ae1b19"/>
<line x1="467.9" y1="890.0" x2="467.9" y2="899.4" stroke="#ae1b19" stroke-width="1.4"/>
<line x1="464.1" y1="890.0" x2="471.7" y2="890.0" stroke="#ae1b19" stroke-width="1.4"/>
<line x1="464.1" y1="899.4" x2="471.7" y2="899.4" stroke="#ae1b19" stroke-width="1.4"/>
<circle cx="467.9" cy="894.4" r="3.5" fill="#ae1b19"/>
<line x1="501.4" y1="893.2" x2="501.4" y2="908.5" stroke="#ae1b19" stroke-width="1.4"/>
<line x1="497.6" y1="893.2" x2="505.2" y2="893.2" stroke="#ae1b19" stroke-width="1.4"/>
<line x1="497.6" y1="908.5" x2="505.2" y2="908.5" stroke="#ae1b19" stroke-width="1.4"/>
<circle cx="501.4" cy="900.8" r="3.5" fill="#ae1b19"/>
<circle cx="534.8" cy="938.7" r="3.5" fill="#ae1b19"/>
<circle cx="568.3" cy="954.5" r="3.5" fill="#ae1b19"/>
<circle cx="601.8" cy="962.8" r="3.5" fill="#ae1b19"/>
<circle cx="635.2" cy="973.0" r="3.5" fill="#ae1b19"/>
<circle cx="669.0" cy="982.4" r="3.5" fill="#ae1b19"/>
<circle cx="702.7" cy="984.2" r="3.5" fill="#ae1b19"/>
<text x="594.0" y="1215.8" font-size="28" text-anchor="middle" stroke="#000" stroke-width="0.4">FR-Ttz (FAR15, nM)</text>
<line x1="312.6" y1="1228.0" x2="822.9" y2="1228.0" stroke="#111" stroke-width="3.4"/>
<text x="203.0" y="1278.4" font-size="28" text-anchor="middle" stroke="#000" stroke-width="0.4">PBS</text>
<text x="265.0" y="1278.4" font-size="28" text-anchor="middle" stroke="#000" stroke-width="0.4">Ttz</text>
<text x="315.8" y="1278.4" font-size="28" text-anchor="middle" stroke="#000" stroke-width="0.4">50</text>
<text x="372.5" y="1278.4" font-size="28" text-anchor="middle" stroke="#000" stroke-width="0.4">20</text>
<text x="423.9" y="1278.4" font-size="28" text-anchor="middle" stroke="#000" stroke-width="0.4">10</text>
<text x="474.2" y="1278.4" font-size="28" text-anchor="middle" stroke="#000" stroke-width="0.4">5</text>
<text x="530.9" y="1278.4" font-size="28" text-anchor="middle" stroke="#000" stroke-width="0.4">2</text>
<text x="581.3" y="1278.4" font-size="28" text-anchor="middle" stroke="#000" stroke-width="0.4">1</text>
<text x="640.0" y="1278.4" font-size="28" text-anchor="middle" stroke="#000" stroke-width="0.4">0.5</text>
<text x="694.0" y="1278.4" font-size="28" text-anchor="middle" stroke="#000" stroke-width="0.4">0.1</text>
<text x="755.0" y="1278.4" font-size="28" text-anchor="middle" stroke="#000" stroke-width="0.4">0.05</text>
<text x="817.6" y="1278.4" font-size="28" text-anchor="middle" stroke="#000" stroke-width="0.4">0.01</text>
<clipPath id="c425"><rect x="168.5" y="1285.8" width="685.5" height="73.1"/></clipPath>
<rect x="168.5" y="1285.8" width="685.5" height="73.1" fill="#fdfdfd"/>
<g clip-path="url(#c425)">
<rect x="178.0" y="1311.0" width="57.0" height="22.0" rx="10.5" fill="#000" opacity="0.1" filter="url(#b6)"/>
<rect x="178.0" y="1309.5" width="27.0" height="25.0" rx="12.0" fill="#000" opacity="0.1" filter="url(#b6)"/>
<rect x="207.0" y="1309.5" width="28.0" height="25.0" rx="12.0" fill="#000" opacity="0.1" filter="url(#b6)"/>
<rect x="237.0" y="1308.0" width="52.0" height="23.0" rx="11.0" fill="#000" opacity="0.1" filter="url(#b6)"/>
<rect x="238.0" y="1307.5" width="29.0" height="25.0" rx="12.0" fill="#000" opacity="0.1" filter="url(#b6)"/>
<rect x="561.0" y="1299.8" width="50.0" height="19.5" rx="9.2" fill="#000" opacity="0.1" filter="url(#b6)"/>
<rect x="617.0" y="1298.8" width="50.0" height="21.5" rx="10.2" fill="#000" opacity="0.1" filter="url(#b6)"/>
<rect x="671.0" y="1297.8" width="50.0" height="22.5" rx="10.8" fill="#000" opacity="0.1" filter="url(#b6)"/>
<rect x="723.0" y="1298.5" width="52.0" height="21.0" rx="10.0" fill="#000" opacity="0.1" filter="url(#b6)"/>
<rect x="723.0" y="1297.2" width="26.0" height="23.5" rx="11.2" fill="#000" opacity="0.1" filter="url(#b6)"/>
<rect x="749.0" y="1298.0" width="26.0" height="23.0" rx="11.0" fill="#000" opacity="0.1" filter="url(#b6)"/>
<rect x="779.0" y="1299.8" width="57.0" height="18.5" rx="8.8" fill="#000" opacity="0.1" filter="url(#b6)"/>
<rect x="805.0" y="1297.5" width="31.0" height="21.0" rx="10.0" fill="#000" opacity="0.1" filter="url(#b6)"/>
<rect x="183.0" y="1317.0" width="47.0" height="9.0" rx="4.5" fill="#000" opacity="1.0" filter="url(#b2)"/>
<rect x="183.0" y="1315.5" width="17.0" height="12.0" rx="6.0" fill="#000" opacity="1.0" filter="url(#b2)"/>
<rect x="212.0" y="1315.5" width="18.0" height="12.0" rx="6.0" fill="#000" opacity="1.0" filter="url(#b2)"/>
<rect x="185.0" y="1326.0" width="44.0" height="24.0" rx="12.0" fill="#000" opacity="0.1" filter="url(#b6)"/>
<rect x="242.0" y="1314.0" width="42.0" height="10.0" rx="5.0" fill="#000" opacity="1.0" filter="url(#b2)"/>
<rect x="243.0" y="1313.5" width="19.0" height="12.0" rx="6.0" fill="#000" opacity="1.0" filter="url(#b2)"/>
<rect x="243.0" y="1324.0" width="40.0" height="24.0" rx="12.0" fill="#000" opacity="0.1" filter="url(#b6)"/>
<rect x="296.0" y="1315.0" width="40.0" height="6.0" rx="3.0" fill="#000" opacity="0.2" filter="url(#b3)"/>
<rect x="320.0" y="1314.5" width="16.0" height="5.0" rx="2.5" fill="#000" opacity="0.12" filter="url(#b3)"/>
<rect x="350.0" y="1313.5" width="40.0" height="7.0" rx="3.5" fill="#000" opacity="0.35" filter="url(#b3)"/>
<rect x="372.0" y="1313.0" width="18.0" height="6.0" rx="3.0" fill="#000" opacity="0.15" filter="url(#b3)"/>
<rect x="401.5" y="1309.0" width="42.5" height="7.0" rx="3.5" fill="#000" opacity="0.42" filter="url(#b3)"/>
<rect x="425.0" y="1308.5" width="19.0" height="6.0" rx="3.0" fill="#000" opacity="0.15" filter="url(#b3)"/>
<rect x="458.0" y="1306.5" width="40.0" height="7.0" rx="3.5" fill="#000" opacity="0.52" filter="url(#b3)"/>
<rect x="478.0" y="1306.0" width="20.0" height="6.0" rx="3.0" fill="#000" opacity="0.15" filter="url(#b3)"/>
<rect x="509.5" y="1306.5" width="42.5" height="7.0" rx="3.5" fill="#000" opacity="0.36" filter="url(#b3)"/>
<rect x="566.0" y="1305.8" width="40.0" height="6.5" rx="3.2" fill="#000" opacity="0.92" filter="url(#b2)"/>
<rect x="568.0" y="1315.0" width="36.0" height="34.0" rx="17.0" fill="#000" opacity="0.05" filter="url(#b6)"/>
<rect x="622.0" y="1304.8" width="40.0" height="8.5" rx="4.2" fill="#000" opacity="1.0" filter="url(#b2)"/>
<rect x="624.0" y="1315.0" width="36.0" height="34.0" rx="17.0" fill="#000" opacity="0.05" filter="url(#b6)"/>
<rect x="676.0" y="1303.8" width="40.0" height="9.5" rx="4.8" fill="#000" opacity="1.0" filter="url(#b2)"/>
<rect x="678.0" y="1315.0" width="36.0" height="34.0" rx="17.0" fill="#000" opacity="0.06" filter="url(#b6)"/>
<rect x="728.0" y="1304.5" width="42.0" height="8.0" rx="4.0" fill="#000" opacity="1.0" filter="url(#b2)"/>
<rect x="728.0" y="1303.2" width="16.0" height="10.5" rx="5.2" fill="#000" opacity="1.0" filter="url(#b2)"/>
<rect x="754.0" y="1304.0" width="16.0" height="10.0" rx="5.0" fill="#000" opacity="1.0" filter="url(#b2)"/>
<rect x="730.0" y="1315.0" width="38.0" height="34.0" rx="17.0" fill="#000" opacity="0.06" filter="url(#b6)"/>
<rect x="784.0" y="1305.8" width="47.0" height="5.5" rx="2.8" fill="#000" opacity="1.0" filter="url(#b2)"/>
<rect x="810.0" y="1303.5" width="21.0" height="8.0" rx="4.0" fill="#000" opacity="1.0" filter="url(#b2)"/>
<rect x="786.0" y="1315.0" width="43.0" height="34.0" rx="17.0" fill="#000" opacity="0.06" filter="url(#b6)"/>
</g>
<rect x="168.5" y="1285.8" width="685.5" height="73.1" fill="none" stroke="#0a0a0a" stroke-width="3"/>
<text x="136.7" y="1334.0" font-size="28" text-anchor="end" stroke="#000" stroke-width="0.4">HER2</text>
<text x="882.0" y="1334.0" font-size="28" stroke="#000" stroke-width="0.4">185</text>
<text x="42.4" y="1400.0" font-size="28" stroke="#000" stroke-width="0.4">HER2%</text>
<text x="201.3" y="1399.0" font-size="28" text-anchor="middle" fill="#e3261f" stroke="#e3261f" stroke-width="0.4">100</text>
<text x="263.9" y="1399.0" font-size="28" text-anchor="middle" fill="#e3261f" stroke="#e3261f" stroke-width="0.4">93</text>
<text x="319.0" y="1399.0" font-size="28" text-anchor="middle" fill="#e3261f" stroke="#e3261f" stroke-width="0.4">24</text>
<text x="377.3" y="1399.0" font-size="28" text-anchor="middle" fill="#e3261f" stroke="#e3261f" stroke-width="0.4">35</text>
<text x="427.6" y="1399.0" font-size="28" text-anchor="middle" fill="#e3261f" stroke="#e3261f" stroke-width="0.4">38</text>
<text x="484.8" y="1399.0" font-size="28" text-anchor="middle" fill="#e3261f" stroke="#e3261f" stroke-width="0.4">46</text>
<text x="544.2" y="1399.0" font-size="28" text-anchor="middle" fill="#e3261f" stroke="#e3261f" stroke-width="0.4">37</text>
<text x="598.7" y="1399.0" font-size="28" text-anchor="middle" fill="#e3261f" stroke="#e3261f" stroke-width="0.4">63</text>
<text x="650.7" y="1399.0" font-size="28" text-anchor="middle" fill="#e3261f" stroke="#e3261f" stroke-width="0.4">80</text>
<text x="704.7" y="1399.0" font-size="28" text-anchor="middle" fill="#e3261f" stroke="#e3261f" stroke-width="0.4">94</text>
<text x="758.8" y="1399.0" font-size="28" text-anchor="middle" fill="#e3261f" stroke="#e3261f" stroke-width="0.4">86</text>
<text x="818.6" y="1399.0" font-size="28" text-anchor="middle" fill="#e3261f" stroke="#e3261f" stroke-width="0.4">81</text>
<clipPath id="c487"><rect x="168.5" y="1407.6" width="685.5" height="67.9"/></clipPath>
<rect x="168.5" y="1407.6" width="685.5" height="67.9" fill="#fafafa"/>
<g clip-path="url(#c487)">
<rect x="178.0" y="1439.8" width="66.5" height="24.5" rx="11.8" fill="#000" opacity="0.18" filter="url(#b6)"/>
<rect x="239.0" y="1439.5" width="62.0" height="24.0" rx="11.5" fill="#000" opacity="0.18" filter="url(#b6)"/>
<rect x="298.0" y="1439.2" width="54.5" height="28.5" rx="13.8" fill="#000" opacity="0.18" filter="url(#b6)"/>
<rect x="349.5" y="1439.8" width="50.0" height="25.5" rx="12.2" fill="#000" opacity="0.18" filter="url(#b6)"/>
<rect x="400.0" y="1436.0" width="61.0" height="25.0" rx="12.0" fill="#000" opacity="0.18" filter="url(#b6)"/>
<rect x="460.0" y="1435.2" width="55.0" height="22.5" rx="10.8" fill="#000" opacity="0.18" filter="url(#b6)"/>
<rect x="511.5" y="1430.0" width="62.5" height="26.0" rx="12.5" fill="#000" opacity="0.18" filter="url(#b6)"/>
<rect x="565.5" y="1430.8" width="63.5" height="26.5" rx="12.8" fill="#000" opacity="0.18" filter="url(#b6)"/>
<rect x="622.0" y="1430.5" width="61.0" height="26.0" rx="12.5" fill="#000" opacity="0.18" filter="url(#b6)"/>
<rect x="676.0" y="1429.8" width="60.0" height="25.5" rx="12.2" fill="#000" opacity="0.18" filter="url(#b6)"/>
<rect x="730.0" y="1429.2" width="57.0" height="25.5" rx="12.2" fill="#000" opacity="0.18" filter="url(#b6)"/>
<rect x="784.0" y="1427.0" width="59.5" height="29.0" rx="14.0" fill="#000" opacity="0.18" filter="url(#b6)"/>
<rect x="183.0" y="1445.8" width="56.5" height="11.5" rx="5.8" fill="#000" opacity="1.0" filter="url(#b2)"/>
<rect x="244.0" y="1445.5" width="52.0" height="11.0" rx="5.5" fill="#000" opacity="1" filter="url(#b2)" transform="rotate(-2 270.0 1451.0)"/>
<rect x="303.0" y="1445.2" width="44.5" height="15.5" rx="7.8" fill="#000" opacity="1.0" filter="url(#b2)"/>
<rect x="354.5" y="1445.8" width="40.0" height="12.5" rx="6.2" fill="#000" opacity="1" filter="url(#b2)" transform="rotate(-9 374.5 1452.0)"/>
<rect x="405.0" y="1442.0" width="51.0" height="12.0" rx="6.0" fill="#000" opacity="1" filter="url(#b2)" transform="rotate(-2 430.5 1448.0)"/>
<rect x="465.0" y="1441.2" width="45.0" height="9.5" rx="4.8" fill="#000" opacity="1.0" filter="url(#b2)"/>
<rect x="516.5" y="1436.0" width="52.5" height="13.0" rx="6.5" fill="#000" opacity="1.0" filter="url(#b2)"/>
<rect x="570.5" y="1436.8" width="53.5" height="13.5" rx="6.8" fill="#000" opacity="1.0" filter="url(#b2)"/>
<rect x="627.0" y="1436.5" width="51.0" height="13.0" rx="6.5" fill="#000" opacity="1.0" filter="url(#b2)"/>
<rect x="681.0" y="1435.8" width="50.0" height="12.5" rx="6.2" fill="#000" opacity="1.0" filter="url(#b2)"/>
<rect x="735.0" y="1435.2" width="47.0" height="12.5" rx="6.2" fill="#000" opacity="1.0" filter="url(#b2)"/>
<rect x="789.0" y="1433.0" width="49.5" height="16.0" rx="8.0" fill="#000" opacity="1" filter="url(#b2)" transform="rotate(-3 813.8 1441.0)"/>
</g>
<rect x="168.5" y="1407.6" width="685.5" height="67.9" fill="none" stroke="#0a0a0a" stroke-width="3"/>
<text x="136.7" y="1463.8" font-size="28" text-anchor="end" stroke="#000" stroke-width="0.4">Tubulin</text>
<text x="882.0" y="1463.8" font-size="28" stroke="#000" stroke-width="0.4">55</text>
<text x="882.0" y="1515.7" font-size="28" stroke="#000" stroke-width="0.4">KD</text>
<line x1="300.6" y1="1557.0" x2="300.6" y2="1804.7" stroke="#111" stroke-width="2.4"/>
<line x1="290.6" y1="1803.5" x2="724.7" y2="1803.5" stroke="#111" stroke-width="2.4"/>
<line x1="290.6" y1="1579.9" x2="300.6" y2="1579.9" stroke="#111" stroke-width="2.4"/>
<line x1="290.6" y1="1692.0" x2="300.6" y2="1692.0" stroke="#111" stroke-width="2.4"/>
<line x1="290.6" y1="1803.5" x2="300.6" y2="1803.5" stroke="#111" stroke-width="2.4"/>
<line x1="333.5" y1="1803.5" x2="333.5" y2="1813.5" stroke="#111" stroke-width="2.4"/>
<line x1="367.5" y1="1803.5" x2="367.5" y2="1813.5" stroke="#111" stroke-width="2.4"/>
<line x1="401.5" y1="1803.5" x2="401.5" y2="1813.5" stroke="#111" stroke-width="2.4"/>
<line x1="435.6" y1="1803.5" x2="435.6" y2="1813.5" stroke="#111" stroke-width="2.4"/>
<line x1="469.6" y1="1803.5" x2="469.6" y2="1813.5" stroke="#111" stroke-width="2.4"/>
<line x1="503.6" y1="1803.5" x2="503.6" y2="1813.5" stroke="#111" stroke-width="2.4"/>
<line x1="537.6" y1="1803.5" x2="537.6" y2="1813.5" stroke="#111" stroke-width="2.4"/>
<line x1="571.6" y1="1803.5" x2="571.6" y2="1813.5" stroke="#111" stroke-width="2.4"/>
<line x1="605.7" y1="1803.5" x2="605.7" y2="1813.5" stroke="#111" stroke-width="2.4"/>
<line x1="639.7" y1="1803.5" x2="639.7" y2="1813.5" stroke="#111" stroke-width="2.4"/>
<line x1="673.7" y1="1803.5" x2="673.7" y2="1813.5" stroke="#111" stroke-width="2.4"/>
<line x1="707.7" y1="1803.5" x2="707.7" y2="1813.5" stroke="#111" stroke-width="2.4"/>
<text x="284.5" y="1590.0" font-size="28" text-anchor="end" stroke="#000" stroke-width="0.4">100</text>
<text x="284.5" y="1702.1" font-size="28" text-anchor="end" stroke="#000" stroke-width="0.4">50</text>
<text x="284.5" y="1813.6" font-size="28" text-anchor="end" stroke="#000" stroke-width="0.4">0</text>
<text x="342.0" y="1832.0" font-size="22.5" text-anchor="end" stroke="#000" stroke-width="0.4" transform="rotate(-45 342.0 1832.0)">PBS</text>
<text x="376.0" y="1832.0" font-size="22.5" text-anchor="end" stroke="#000" stroke-width="0.4" transform="rotate(-45 376.0 1832.0)">Ttz</text>
<text x="414.0" y="1832.0" font-size="22.5" text-anchor="end" stroke="#000" stroke-width="0.4" transform="rotate(-45 414.0 1832.0)">0.01</text>
<text x="448.1" y="1832.0" font-size="22.5" text-anchor="end" stroke="#000" stroke-width="0.4" transform="rotate(-45 448.1 1832.0)">0.05</text>
<text x="482.1" y="1832.0" font-size="22.5" text-anchor="end" stroke="#000" stroke-width="0.4" transform="rotate(-45 482.1 1832.0)">0.1</text>
<text x="516.1" y="1832.0" font-size="22.5" text-anchor="end" stroke="#000" stroke-width="0.4" transform="rotate(-45 516.1 1832.0)">0.5</text>
<text x="550.1" y="1832.0" font-size="22.5" text-anchor="end" stroke="#000" stroke-width="0.4" transform="rotate(-45 550.1 1832.0)">1</text>
<text x="584.1" y="1832.0" font-size="22.5" text-anchor="end" stroke="#000" stroke-width="0.4" transform="rotate(-45 584.1 1832.0)">2</text>
<text x="618.2" y="1832.0" font-size="22.5" text-anchor="end" stroke="#000" stroke-width="0.4" transform="rotate(-45 618.2 1832.0)">5</text>
<text x="652.2" y="1832.0" font-size="22.5" text-anchor="end" stroke="#000" stroke-width="0.4" transform="rotate(-45 652.2 1832.0)">10</text>
<text x="686.2" y="1832.0" font-size="22.5" text-anchor="end" stroke="#000" stroke-width="0.4" transform="rotate(-45 686.2 1832.0)">20</text>
<text x="720.2" y="1832.0" font-size="22.5" text-anchor="end" stroke="#000" stroke-width="0.4" transform="rotate(-45 720.2 1832.0)">50</text>
<line x1="385.7" y1="1870.4" x2="724.7" y2="1870.4" stroke="#111" stroke-width="1.8"/>
<text x="554.5" y="1909.6" font-size="28.3" text-anchor="middle" stroke="#000" stroke-width="0.4">FR-Ttz (FAR15, nM)</text>
<text x="463.5" y="1570.6" font-size="28.3" stroke="#000" stroke-width="0.4">DC<tspan font-size="18" dy="6">50</tspan><tspan dy="-6">=1.18 nM</tspan></text>
<text x="218.6" y="1689.0" font-size="28" text-anchor="middle" stroke="#000" stroke-width="0.4" transform="rotate(-90 218.6 1689.0)">Relative HER2 Level (%)</text>
<path d="M333.5,1584.0 C339.1,1584.9 355.8,1587.6 367.2,1589.8 C378.6,1592.1 390.5,1594.6 401.9,1597.5 C413.3,1600.3 424.4,1603.4 435.6,1606.9 C446.9,1610.3 458.1,1613.5 469.4,1618.0 C480.6,1622.5 491.9,1627.2 503.1,1633.9 C514.4,1640.6 525.4,1649.8 536.9,1658.2 C548.4,1666.7 560.6,1676.1 572.1,1684.6 C583.6,1693.2 594.6,1702.6 605.9,1709.6 C617.1,1716.5 628.3,1721.7 639.6,1726.3 C651.0,1731.0 662.6,1734.4 674.0,1737.5 C685.3,1740.6 702.1,1743.6 707.7,1744.8" fill="none" stroke="#ae1b19" stroke-width="2.4" stroke-linecap="round"/>
<circle cx="333.5" cy="1579.6" r="3.5" fill="#ae1b19"/>
<line x1="367.5" y1="1585.4" x2="367.5" y2="1592.2" stroke="#ae1b19" stroke-width="1.4"/>
<line x1="363.7" y1="1585.4" x2="371.3" y2="1585.4" stroke="#ae1b19" stroke-width="1.4"/>
<line x1="363.7" y1="1592.2" x2="371.3" y2="1592.2" stroke="#ae1b19" stroke-width="1.4"/>
<circle cx="367.5" cy="1588.7" r="3.5" fill="#ae1b19"/>
<line x1="401.9" y1="1609.8" x2="401.9" y2="1626.5" stroke="#ae1b19" stroke-width="1.4"/>
<line x1="398.1" y1="1609.8" x2="405.7" y2="1609.8" stroke="#ae1b19" stroke-width="1.4"/>
<line x1="398.1" y1="1626.5" x2="405.7" y2="1626.5" stroke="#ae1b19" stroke-width="1.4"/>
<circle cx="401.9" cy="1618.0" r="3.5" fill="#ae1b19"/>
<circle cx="435.6" cy="1611.6" r="3.5" fill="#ae1b19"/>
<line x1="469.7" y1="1598.1" x2="469.7" y2="1609.8" stroke="#ae1b19" stroke-width="1.4"/>
<line x1="465.9" y1="1598.1" x2="473.5" y2="1598.1" stroke="#ae1b19" stroke-width="1.4"/>
<line x1="465.9" y1="1609.8" x2="473.5" y2="1609.8" stroke="#ae1b19" stroke-width="1.4"/>
<circle cx="469.7" cy="1603.9" r="3.5" fill="#ae1b19"/>
<line x1="503.7" y1="1622.4" x2="503.7" y2="1630.3" stroke="#ae1b19" stroke-width="1.4"/>
<line x1="499.9" y1="1622.4" x2="507.5" y2="1622.4" stroke="#ae1b19" stroke-width="1.4"/>
<line x1="499.9" y1="1630.3" x2="507.5" y2="1630.3" stroke="#ae1b19" stroke-width="1.4"/>
<circle cx="503.7" cy="1626.5" r="3.5" fill="#ae1b19"/>
<circle cx="537.5" cy="1672.0" r="3.5" fill="#ae1b19"/>
<line x1="572.1" y1="1707.5" x2="572.1" y2="1718.4" stroke="#ae1b19" stroke-width="1.4"/>
<line x1="568.3" y1="1707.5" x2="575.9" y2="1707.5" stroke="#ae1b19" stroke-width="1.4"/>
<line x1="568.3" y1="1718.4" x2="575.9" y2="1718.4" stroke="#ae1b19" stroke-width="1.4"/>
<circle cx="572.1" cy="1713.1" r="3.5" fill="#ae1b19"/>
<line x1="605.9" y1="1687.0" x2="605.9" y2="1710.5" stroke="#ae1b19" stroke-width="1.4"/>
<line x1="602.1" y1="1687.0" x2="609.7" y2="1687.0" stroke="#ae1b19" stroke-width="1.4"/>
<line x1="602.1" y1="1710.5" x2="609.7" y2="1710.5" stroke="#ae1b19" stroke-width="1.4"/>
<circle cx="605.9" cy="1698.4" r="3.5" fill="#ae1b19"/>
<circle cx="639.9" cy="1719.6" r="3.5" fill="#ae1b19"/>
<circle cx="674.0" cy="1730.7" r="3.5" fill="#ae1b19"/>
<circle cx="707.7" cy="1753.0" r="3.5" fill="#ae1b19"/>
<text x="1458.0" y="484.8" font-size="28" text-anchor="middle" stroke="#000" stroke-width="0.4">FR-Stz (FAR20, h)</text>
<line x1="1267.4" y1="498.0" x2="1621.9" y2="498.0" stroke="#111" stroke-width="3.4"/>
<text x="1278.0" y="538.8" font-size="28" text-anchor="middle" stroke="#000" stroke-width="0.4">0</text>
<text x="1341.0" y="538.8" font-size="28" text-anchor="middle" stroke="#000" stroke-width="0.4">1</text>
<text x="1404.0" y="538.8" font-size="28" text-anchor="middle" stroke="#000" stroke-width="0.4">6</text>
<text x="1466.6" y="538.8" font-size="28" text-anchor="middle" stroke="#000" stroke-width="0.4">12</text>
<text x="1537.0" y="538.8" font-size="28" text-anchor="middle" stroke="#000" stroke-width="0.4">24</text>
<text x="1601.0" y="538.8" font-size="28" text-anchor="middle" stroke="#000" stroke-width="0.4">48</text>
<clipPath id="c594"><rect x="1230.3" y="545.7" width="413.3" height="85.3"/></clipPath>
<rect x="1230.3" y="545.7" width="413.3" height="85.3" fill="#fcfcfc"/>
<g clip-path="url(#c594)">
<rect x="1244.0" y="563.5" width="65.0" height="38.0" rx="18.5" fill="#000" opacity="0.2" filter="url(#b6)"/>
<rect x="1315.0" y="563.5" width="56.5" height="38.0" rx="18.5" fill="#000" opacity="0.2" filter="url(#b6)"/>
<rect x="1249.0" y="569.5" width="55.0" height="25.0" rx="12.5" fill="#000" opacity="1" filter="url(#b3)"/>
<rect x="1251.0" y="588.0" width="51.0" height="24.0" rx="12.0" fill="#000" opacity="0.3" filter="url(#b6)"/>
<rect x="1320.0" y="569.5" width="46.5" height="25.0" rx="12.5" fill="#000" opacity="1" filter="url(#b3)"/>
<rect x="1322.0" y="588.0" width="43.0" height="24.0" rx="12.0" fill="#000" opacity="0.3" filter="url(#b6)"/>
<rect x="1380.0" y="577.0" width="46.5" height="12.0" rx="6.0" fill="#000" opacity="0.62" filter="url(#b4)"/>
<rect x="1382.0" y="575.5" width="16.0" height="11.0" rx="5.5" fill="#000" opacity="0.55" filter="url(#b4)"/>
<rect x="1411.0" y="577.5" width="15.0" height="11.0" rx="5.5" fill="#000" opacity="0.55" filter="url(#b4)"/>
<rect x="1381.0" y="585.0" width="45.0" height="22.0" rx="11.0" fill="#000" opacity="0.2" filter="url(#b6)"/>
<rect x="1446.0" y="578.0" width="46.5" height="14.0" rx="7.0" fill="#000" opacity="0.42" filter="url(#b4)"/>
<rect x="1478.0" y="580.0" width="14.0" height="10.0" rx="5.0" fill="#000" opacity="0.2" filter="url(#b4)"/>
<rect x="1447.0" y="587.0" width="45.0" height="22.0" rx="11.0" fill="#000" opacity="0.14" filter="url(#b6)"/>
<rect x="1514.0" y="579.0" width="43.0" height="10.0" rx="5.0" fill="#000" opacity="0.12" filter="url(#b4)"/>
<rect x="1545.0" y="578.5" width="12.0" height="9.0" rx="4.5" fill="#000" opacity="0.12" filter="url(#b4)"/>
<rect x="1573.0" y="581.0" width="42.0" height="12.0" rx="6.0" fill="#000" opacity="0.16" filter="url(#b4)"/>
</g>
<rect x="1230.3" y="545.7" width="413.3" height="85.3" fill="none" stroke="#0a0a0a" stroke-width="3"/>
<text x="1197.0" y="601.3" font-size="28" text-anchor="end" stroke="#000" stroke-width="0.4">TROP2</text>
<text x="1667.0" y="598.7" font-size="28" stroke="#000" stroke-width="0.4">55</text>
<text x="1083.0" y="667.6" font-size="28" stroke="#000" stroke-width="0.4">TROP2%</text>
<text x="1278.0" y="666.5" font-size="28" text-anchor="middle" fill="#e3261f" stroke="#e3261f" stroke-width="0.4">100</text>
<text x="1346.9" y="666.5" font-size="28" text-anchor="middle" fill="#e3261f" stroke="#e3261f" stroke-width="0.4">91</text>
<text x="1407.8" y="666.5" font-size="28" text-anchor="middle" fill="#e3261f" stroke="#e3261f" stroke-width="0.4">81</text>
<text x="1476.0" y="666.5" font-size="28" text-anchor="middle" fill="#e3261f" stroke="#e3261f" stroke-width="0.4">62</text>
<text x="1542.4" y="666.5" font-size="28" text-anchor="middle" fill="#e3261f" stroke="#e3261f" stroke-width="0.4">26</text>
<text x="1602.3" y="666.5" font-size="28" text-anchor="middle" fill="#e3261f" stroke="#e3261f" stroke-width="0.4">23</text>
<clipPath id="c624"><rect x="1230.3" y="679.2" width="413.3" height="71.6"/></clipPath>
<rect x="1230.3" y="679.2" width="413.3" height="71.6" fill="#fafafa"/>
<g clip-path="url(#c624)">
<rect x="1236.0" y="702.0" width="66.0" height="30.0" rx="14.5" fill="#000" opacity="0.18" filter="url(#b6)"/>
<rect x="1307.0" y="703.5" width="60.0" height="26.0" rx="12.5" fill="#000" opacity="0.18" filter="url(#b6)"/>
<rect x="1307.0" y="699.5" width="38.0" height="30.0" rx="14.5" fill="#000" opacity="0.18" filter="url(#b6)"/>
<rect x="1373.0" y="708.5" width="58.5" height="19.0" rx="9.0" fill="#000" opacity="0.18" filter="url(#b6)"/>
<rect x="1373.0" y="706.2" width="26.0" height="22.5" rx="10.8" fill="#000" opacity="0.18" filter="url(#b6)"/>
<rect x="1405.0" y="707.2" width="26.5" height="22.5" rx="10.8" fill="#000" opacity="0.18" filter="url(#b6)"/>
<rect x="1441.0" y="710.0" width="56.5" height="17.0" rx="8.0" fill="#000" opacity="0.18" filter="url(#b6)"/>
<rect x="1441.0" y="707.0" width="21.0" height="22.0" rx="10.5" fill="#000" opacity="0.18" filter="url(#b6)"/>
<rect x="1465.0" y="707.2" width="32.5" height="22.5" rx="10.8" fill="#000" opacity="0.18" filter="url(#b6)"/>
<rect x="1509.0" y="710.5" width="53.0" height="17.0" rx="8.0" fill="#000" opacity="0.18" filter="url(#b6)"/>
<rect x="1509.0" y="709.2" width="21.0" height="19.5" rx="9.2" fill="#000" opacity="0.18" filter="url(#b6)"/>
<rect x="1541.0" y="709.0" width="21.0" height="20.0" rx="9.5" fill="#000" opacity="0.18" filter="url(#b6)"/>
<rect x="1571.0" y="709.0" width="59.0" height="18.0" rx="8.5" fill="#000" opacity="0.18" filter="url(#b6)"/>
<rect x="1571.0" y="707.0" width="26.0" height="22.0" rx="10.5" fill="#000" opacity="0.18" filter="url(#b6)"/>
<rect x="1603.0" y="706.5" width="27.0" height="23.0" rx="11.0" fill="#000" opacity="0.18" filter="url(#b6)"/>
<rect x="1241.0" y="708.0" width="56.0" height="17.0" rx="8.5" fill="#000" opacity="1" filter="url(#b3)"/>
<rect x="1312.0" y="709.5" width="50.0" height="13.0" rx="6.5" fill="#000" opacity="1" filter="url(#b3)"/>
<rect x="1312.0" y="705.5" width="28.0" height="17.0" rx="8.5" fill="#000" opacity="1" filter="url(#b3)"/>
<rect x="1378.0" y="714.5" width="48.5" height="6.0" rx="3.0" fill="#000" opacity="1.0" filter="url(#b2)"/>
<rect x="1378.0" y="712.2" width="16.0" height="9.5" rx="4.8" fill="#000" opacity="1.0" filter="url(#b2)"/>
<rect x="1410.0" y="713.2" width="16.5" height="9.5" rx="4.8" fill="#000" opacity="1.0" filter="url(#b2)"/>
<rect x="1446.0" y="716.0" width="46.5" height="4.0" rx="2.0" fill="#000" opacity="0.9" filter="url(#b2)"/>
<rect x="1446.0" y="713.0" width="11.0" height="9.0" rx="4.5" fill="#000" opacity="1.0" filter="url(#b2)"/>
<rect x="1470.0" y="713.2" width="22.5" height="9.5" rx="4.8" fill="#000" opacity="1.0" filter="url(#b2)"/>
<rect x="1514.0" y="716.5" width="43.0" height="4.0" rx="2.0" fill="#000" opacity="0.9" filter="url(#b2)"/>
<rect x="1514.0" y="715.2" width="11.0" height="6.5" rx="3.2" fill="#000" opacity="1.0" filter="url(#b2)"/>
<rect x="1546.0" y="715.0" width="11.0" height="7.0" rx="3.5" fill="#000" opacity="1.0" filter="url(#b2)"/>
<rect x="1576.0" y="715.0" width="49.0" height="5.0" rx="2.5" fill="#000" opacity="1.0" filter="url(#b2)"/>
<rect x="1576.0" y="713.0" width="16.0" height="9.0" rx="4.5" fill="#000" opacity="1.0" filter="url(#b2)"/>
<rect x="1608.0" y="712.5" width="17.0" height="10.0" rx="5.0" fill="#000" opacity="1.0" filter="url(#b2)"/>
</g>
<rect x="1230.3" y="679.2" width="413.3" height="71.6" fill="none" stroke="#0a0a0a" stroke-width="3"/>
<text x="1198.0" y="723.0" font-size="28" text-anchor="end" stroke="#000" stroke-width="0.4">Vinculin</text>
<text x="1659.5" y="723.0" font-size="28" stroke="#000" stroke-width="0.4">124</text>
<text x="1666.0" y="771.0" font-size="28" stroke="#000" stroke-width="0.4">KD</text>
<line x1="1827.0" y1="482.9" x2="1827.0" y2="729.2" stroke="#111" stroke-width="2.4"/>
<line x1="1817.0" y1="728.0" x2="2136.6" y2="728.0" stroke="#111" stroke-width="2.4"/>
<line x1="1817.0" y1="505.2" x2="1827.0" y2="505.2" stroke="#111" stroke-width="2.4"/>
<line x1="1817.0" y1="617.0" x2="1827.0" y2="617.0" stroke="#111" stroke-width="2.4"/>
<line x1="1817.0" y1="728.0" x2="1827.0" y2="728.0" stroke="#111" stroke-width="2.4"/>
<line x1="1873.7" y1="728.0" x2="1873.7" y2="738.0" stroke="#111" stroke-width="2.4"/>
<line x1="1920.7" y1="728.0" x2="1920.7" y2="738.0" stroke="#111" stroke-width="2.4"/>
<line x1="1969.0" y1="728.0" x2="1969.0" y2="738.0" stroke="#111" stroke-width="2.4"/>
<line x1="2015.8" y1="728.0" x2="2015.8" y2="738.0" stroke="#111" stroke-width="2.4"/>
<line x1="2064.1" y1="728.0" x2="2064.1" y2="738.0" stroke="#111" stroke-width="2.4"/>
<line x1="2111.5" y1="728.0" x2="2111.5" y2="738.0" stroke="#111" stroke-width="2.4"/>
<text x="1807.2" y="515.3" font-size="28" text-anchor="end" stroke="#000" stroke-width="0.4">100</text>
<text x="1807.2" y="627.1" font-size="28" text-anchor="end" stroke="#000" stroke-width="0.4">50</text>
<text x="1807.2" y="738.1" font-size="28" text-anchor="end" stroke="#000" stroke-width="0.4">0</text>
<text x="1873.7" y="770.9" font-size="28" text-anchor="middle" stroke="#000" stroke-width="0.4">0</text>
<text x="1920.7" y="770.9" font-size="28" text-anchor="middle" stroke="#000" stroke-width="0.4">1</text>
<text x="1969.0" y="770.9" font-size="28" text-anchor="middle" stroke="#000" stroke-width="0.4">6</text>
<text x="2015.8" y="770.9" font-size="28" text-anchor="middle" stroke="#000" stroke-width="0.4">12</text>
<text x="2064.1" y="770.9" font-size="28" text-anchor="middle" stroke="#000" stroke-width="0.4">24</text>
<text x="2111.5" y="770.9" font-size="28" text-anchor="middle" stroke="#000" stroke-width="0.4">48</text>
<text x="1995.8" y="809.6" font-size="28.3" text-anchor="middle" stroke="#000" stroke-width="0.4">FR-Stz (FAR20, h)</text>
<text x="1748.5" y="628.4" font-size="28" text-anchor="middle" stroke="#000" stroke-width="0.4" transform="rotate(-90 1748.5 628.4)">Relative TROP2 Level (%)</text>
<path d="M1873.7,505.7 C1877.5,505.6 1888.3,504.6 1896.1,505.2 C1903.9,505.9 1913.1,506.8 1920.7,509.8 C1928.3,512.8 1933.6,516.6 1941.7,523.5 C1949.7,530.3 1960.7,541.7 1969.0,550.8 C1977.4,560.0 1984.0,569.3 1991.8,578.2 C1999.6,587.1 2008.2,596.1 2015.8,604.4 C2023.4,612.8 2029.4,620.6 2037.4,628.4 C2045.5,636.1 2055.8,645.1 2064.1,651.2 C2072.5,657.2 2079.7,660.8 2087.6,664.8 C2095.5,668.8 2107.5,673.4 2111.5,675.1" fill="none" stroke="#ae1b19" stroke-width="2.4" stroke-linecap="round"/>
<circle cx="1873.7" cy="505.2" r="3.3" fill="#ae1b19"/>
<line x1="1920.7" y1="502.5" x2="1920.7" y2="518.9" stroke="#ae1b19" stroke-width="2.1"/>
<line x1="1917.3" y1="502.5" x2="1924.1" y2="502.5" stroke="#ae1b19" stroke-width="2.1"/>
<line x1="1917.3" y1="518.9" x2="1924.1" y2="518.9" stroke="#ae1b19" stroke-width="2.1"/>
<circle cx="1920.7" cy="510.5" r="3.3" fill="#ae1b19"/>
<circle cx="1969.0" cy="547.4" r="3.3" fill="#ae1b19"/>
<line x1="2016.2" y1="587.3" x2="2016.2" y2="598.0" stroke="#ae1b19" stroke-width="2.1"/>
<line x1="2012.8" y1="587.3" x2="2019.6" y2="587.3" stroke="#ae1b19" stroke-width="2.1"/>
<line x1="2012.8" y1="598.0" x2="2019.6" y2="598.0" stroke="#ae1b19" stroke-width="2.1"/>
<circle cx="2016.2" cy="592.6" r="3.3" fill="#ae1b19"/>
<line x1="2064.1" y1="659.1" x2="2064.1" y2="667.1" stroke="#ae1b19" stroke-width="2.1"/>
<line x1="2060.7" y1="659.1" x2="2067.5" y2="659.1" stroke="#ae1b19" stroke-width="2.1"/>
<line x1="2060.7" y1="667.1" x2="2067.5" y2="667.1" stroke="#ae1b19" stroke-width="2.1"/>
<circle cx="2064.1" cy="663.0" r="3.3" fill="#ae1b19"/>
<circle cx="2111.5" cy="674.6" r="3.3" fill="#ae1b19"/>
<text x="1437.5" y="922.0" font-size="28" text-anchor="middle" stroke="#000" stroke-width="0.4">FR-Ttz (FAR15, h)</text>
<line x1="1247.0" y1="935.0" x2="1601.0" y2="935.0" stroke="#111" stroke-width="3.4"/>
<text x="1278.0" y="977.0" font-size="28" text-anchor="middle" stroke="#000" stroke-width="0.4">0</text>
<text x="1338.0" y="977.0" font-size="28" text-anchor="middle" stroke="#000" stroke-width="0.4">1</text>
<text x="1405.0" y="977.0" font-size="28" text-anchor="middle" stroke="#000" stroke-width="0.4">6</text>
<text x="1470.0" y="977.0" font-size="28" text-anchor="middle" stroke="#000" stroke-width="0.4">12</text>
<text x="1541.0" y="977.0" font-size="28" text-anchor="middle" stroke="#000" stroke-width="0.4">24</text>
<text x="1602.0" y="977.0" font-size="28" text-anchor="middle" stroke="#000" stroke-width="0.4">48</text>
<clipPath id="c708"><rect x="1229.8" y="984" width="413.2" height="61.0"/></clipPath>
<rect x="1229.8" y="984" width="413.2" height="61.0" fill="#fafafa"/>
<g clip-path="url(#c708)">
<rect x="1243.0" y="998.0" width="64.0" height="32.0" rx="15.5" fill="#000" opacity="0.15" filter="url(#b6)"/>
<rect x="1310.0" y="1000.0" width="61.5" height="24.0" rx="11.5" fill="#000" opacity="0.15" filter="url(#b6)"/>
<rect x="1310.0" y="999.0" width="33.0" height="29.0" rx="14.0" fill="#000" opacity="0.15" filter="url(#b6)"/>
<rect x="1347.0" y="998.5" width="24.5" height="26.0" rx="12.5" fill="#000" opacity="0.15" filter="url(#b6)"/>
<rect x="1378.0" y="999.8" width="58.0" height="22.5" rx="10.8" fill="#000" opacity="0.15" filter="url(#b6)"/>
<rect x="1442.5" y="998.8" width="56.5" height="21.5" rx="10.2" fill="#000" opacity="0.15" filter="url(#b6)"/>
<rect x="1475.0" y="998.5" width="24.0" height="23.0" rx="11.0" fill="#000" opacity="0.15" filter="url(#b6)"/>
<rect x="1507.0" y="998.5" width="28.0" height="19.0" rx="9.0" fill="#000" opacity="0.15" filter="url(#b6)"/>
<rect x="1539.0" y="994.5" width="23.0" height="21.0" rx="10.0" fill="#000" opacity="0.15" filter="url(#b6)"/>
<rect x="1248.0" y="1004.0" width="54.0" height="19.0" rx="9.5" fill="#000" opacity="1" filter="url(#b3)"/>
<rect x="1315.0" y="1006.0" width="51.5" height="11.0" rx="5.5" fill="#000" opacity="1" filter="url(#b3)"/>
<rect x="1315.0" y="1005.0" width="23.0" height="16.0" rx="8.0" fill="#000" opacity="1" filter="url(#b3)"/>
<rect x="1352.0" y="1004.5" width="14.5" height="13.0" rx="6.5" fill="#000" opacity="1" filter="url(#b3)"/>
<rect x="1383.0" y="1005.8" width="48.0" height="9.5" rx="4.8" fill="#000" opacity="1.0" filter="url(#b2)"/>
<rect x="1447.5" y="1004.8" width="46.5" height="8.5" rx="4.2" fill="#000" opacity="1.0" filter="url(#b2)"/>
<rect x="1480.0" y="1004.5" width="14.0" height="10.0" rx="5.0" fill="#000" opacity="1.0" filter="url(#b2)"/>
<rect x="1512.0" y="1004.5" width="18.0" height="6.0" rx="3.0" fill="#000" opacity="0.95" filter="url(#b2)"/>
<rect x="1526.0" y="1004.5" width="22.0" height="3.0" rx="1.5" fill="#000" opacity="0.6" filter="url(#b2)"/>
<rect x="1544.0" y="1000.5" width="13.0" height="8.0" rx="4.0" fill="#000" opacity="0.95" filter="url(#b2)"/>
<rect x="1577.0" y="1004.0" width="45.0" height="4.0" rx="2.0" fill="#000" opacity="0.3" filter="url(#b3)"/>
<rect x="1608.0" y="1002.0" width="14.0" height="5.0" rx="2.5" fill="#000" opacity="0.3" filter="url(#b3)"/>
</g>
<rect x="1229.8" y="984" width="413.2" height="61.0" fill="none" stroke="#0a0a0a" stroke-width="3"/>
<text x="1198.5" y="1028.0" font-size="28" text-anchor="end" stroke="#000" stroke-width="0.4">HER2</text>
<text x="1659.5" y="1026.4" font-size="28" stroke="#000" stroke-width="0.4">185</text>
<text x="1100.0" y="1081.0" font-size="28" stroke="#000" stroke-width="0.4">HER2%</text>
<text x="1276.4" y="1081.0" font-size="28" text-anchor="middle" fill="#e3261f" stroke="#e3261f" stroke-width="0.4">100</text>
<text x="1338.4" y="1081.0" font-size="28" text-anchor="middle" fill="#e3261f" stroke="#e3261f" stroke-width="0.4">99</text>
<text x="1406.0" y="1081.0" font-size="28" text-anchor="middle" fill="#e3261f" stroke="#e3261f" stroke-width="0.4">79</text>
<text x="1470.0" y="1081.0" font-size="28" text-anchor="middle" fill="#e3261f" stroke="#e3261f" stroke-width="0.4">82</text>
<text x="1529.7" y="1081.0" font-size="28" text-anchor="middle" fill="#e3261f" stroke="#e3261f" stroke-width="0.4">62</text>
<text x="1598.6" y="1081.0" font-size="28" text-anchor="middle" fill="#e3261f" stroke="#e3261f" stroke-width="0.4">33</text>
<clipPath id="c743"><rect x="1229.8" y="1093.7" width="413.2" height="66.8"/></clipPath>
<rect x="1229.8" y="1093.7" width="413.2" height="66.8" fill="#fafafa"/>
<g clip-path="url(#c743)">
<rect x="1232.0" y="1112.5" width="73.5" height="27.0" rx="13.0" fill="#000" opacity="0.18" filter="url(#b6)"/>
<rect x="1303.5" y="1114.0" width="65.0" height="26.0" rx="12.5" fill="#000" opacity="0.18" filter="url(#b6)"/>
<rect x="1370.0" y="1115.0" width="64.5" height="22.0" rx="10.5" fill="#000" opacity="0.18" filter="url(#b6)"/>
<rect x="1433.0" y="1113.5" width="61.5" height="22.0" rx="10.5" fill="#000" opacity="0.18" filter="url(#b6)"/>
<rect x="1495.5" y="1110.0" width="63.5" height="23.0" rx="11.0" fill="#000" opacity="0.18" filter="url(#b6)"/>
<rect x="1560.0" y="1108.5" width="65.0" height="25.0" rx="12.0" fill="#000" opacity="0.18" filter="url(#b6)"/>
<rect x="1237.0" y="1118.5" width="63.5" height="14.0" rx="7.0" fill="#000" opacity="1" filter="url(#b3)"/>
<rect x="1308.5" y="1120.0" width="55.0" height="13.0" rx="6.5" fill="#000" opacity="1" filter="url(#b3)"/>
<rect x="1375.0" y="1121.0" width="54.5" height="9.0" rx="4.5" fill="#000" opacity="1.0" filter="url(#b2)"/>
<rect x="1438.0" y="1119.5" width="51.5" height="9.0" rx="4.5" fill="#000" opacity="1" filter="url(#b2)" transform="rotate(-2 1463.8 1124.0)"/>
<rect x="1500.5" y="1116.0" width="53.5" height="10.0" rx="5.0" fill="#000" opacity="1.0" filter="url(#b2)"/>
<rect x="1565.0" y="1114.5" width="55.0" height="12.0" rx="6.0" fill="#000" opacity="1" filter="url(#b3)"/>
</g>
<rect x="1229.8" y="1093.7" width="413.2" height="66.8" fill="none" stroke="#0a0a0a" stroke-width="3"/>
<text x="1198.5" y="1144.6" font-size="28" text-anchor="end" stroke="#000" stroke-width="0.4">Tubulin</text>
<text x="1667.0" y="1138.7" font-size="28" stroke="#000" stroke-width="0.4">55</text>
<text x="1665.0" y="1180.0" font-size="28" stroke="#000" stroke-width="0.4">KD</text>
<line x1="1828.8" y1="907.2" x2="1828.8" y2="1153.7" stroke="#111" stroke-width="2.4"/>
<line x1="1818.8" y1="1152.5" x2="2137.8" y2="1152.5" stroke="#111" stroke-width="2.4"/>
<line x1="1818.8" y1="908.4" x2="1828.8" y2="908.4" stroke="#111" stroke-width="2.4"/>
<line x1="1818.8" y1="989.3" x2="1828.8" y2="989.3" stroke="#111" stroke-width="2.4"/>
<line x1="1818.8" y1="1070.9" x2="1828.8" y2="1070.9" stroke="#111" stroke-width="2.4"/>
<line x1="1818.8" y1="1152.5" x2="1828.8" y2="1152.5" stroke="#111" stroke-width="2.4"/>
<line x1="1874.9" y1="1152.5" x2="1874.9" y2="1162.5" stroke="#111" stroke-width="2.4"/>
<line x1="1922.3" y1="1152.5" x2="1922.3" y2="1162.5" stroke="#111" stroke-width="2.4"/>
<line x1="1969.7" y1="1152.5" x2="1969.7" y2="1162.5" stroke="#111" stroke-width="2.4"/>
<line x1="2017.4" y1="1152.5" x2="2017.4" y2="1162.5" stroke="#111" stroke-width="2.4"/>
<line x1="2064.8" y1="1152.5" x2="2064.8" y2="1162.5" stroke="#111" stroke-width="2.4"/>
<line x1="2112.2" y1="1152.5" x2="2112.2" y2="1162.5" stroke="#111" stroke-width="2.4"/>
<text x="1807.2" y="917.3" font-size="28" text-anchor="end" stroke="#000" stroke-width="0.4">150</text>
<text x="1807.2" y="999.4" font-size="28" text-anchor="end" stroke="#000" stroke-width="0.4">100</text>
<text x="1807.2" y="1081.0" font-size="28" text-anchor="end" stroke="#000" stroke-width="0.4">50</text>
<text x="1807.2" y="1162.6" font-size="28" text-anchor="end" stroke="#000" stroke-width="0.4">0</text>
<text x="1874.9" y="1195.2" font-size="28" text-anchor="middle" stroke="#000" stroke-width="0.4">0</text>
<text x="1922.3" y="1195.2" font-size="28" text-anchor="middle" stroke="#000" stroke-width="0.4">1</text>
<text x="1969.7" y="1195.2" font-size="28" text-anchor="middle" stroke="#000" stroke-width="0.4">6</text>
<text x="2017.4" y="1195.2" font-size="28" text-anchor="middle" stroke="#000" stroke-width="0.4">12</text>
<text x="2064.8" y="1195.2" font-size="28" text-anchor="middle" stroke="#000" stroke-width="0.4">24</text>
<text x="2112.2" y="1195.2" font-size="28" text-anchor="middle" stroke="#000" stroke-width="0.4">48</text>
<text x="1996.6" y="1233.9" font-size="28.3" text-anchor="middle" stroke="#000" stroke-width="0.4">FR-Ttz (FAR15, h)</text>
<text x="1750.4" y="1036.7" font-size="28" text-anchor="middle" stroke="#000" stroke-width="0.4" transform="rotate(-90 1750.4 1036.7)">Relative HER2 Level (%)</text>
<path d="M1874.9,986.5 C1878.4,987.7 1888.2,990.7 1896.1,993.4 C1904.0,996.0 1913.9,1000.0 1922.3,1002.5 C1930.7,1005.0 1938.3,1006.5 1946.2,1008.2 C1954.1,1009.9 1961.7,1011.2 1969.7,1012.8 C1977.7,1014.4 1986.2,1015.8 1994.1,1017.8 C2002.1,1019.8 2010.2,1021.8 2017.4,1024.6 C2024.6,1027.4 2029.5,1029.7 2037.4,1034.4 C2045.3,1039.1 2056.4,1046.2 2064.8,1052.7 C2073.2,1059.1 2079.7,1066.0 2087.6,1073.2 C2095.5,1080.4 2108.1,1092.2 2112.2,1096.0" fill="none" stroke="#ae1b19" stroke-width="2.4" stroke-linecap="round"/>
<circle cx="1874.9" cy="989.3" r="3.6" fill="#ae1b19"/>
<circle cx="1922.8" cy="992.9" r="3.6" fill="#ae1b19"/>
<circle cx="1970.2" cy="1019.1" r="3.6" fill="#ae1b19"/>
<circle cx="2017.4" cy="1021.9" r="3.6" fill="#ae1b19"/>
<line x1="2064.8" y1="1048.8" x2="2064.8" y2="1056.5" stroke="#ae1b19" stroke-width="2.1"/>
<line x1="2061.4" y1="1048.8" x2="2068.2" y2="1048.8" stroke="#ae1b19" stroke-width="2.1"/>
<line x1="2061.4" y1="1056.5" x2="2068.2" y2="1056.5" stroke="#ae1b19" stroke-width="2.1"/>
<circle cx="2064.8" cy="1052.7" r="3.6" fill="#ae1b19"/>
<circle cx="2112.2" cy="1097.1" r="3.6" fill="#ae1b19"/>
<rect x="1160.4" y="1318.5" width="490.6" height="502.7" fill="#fff"/>
<clipPath id="flowclip"><rect x="1160.4" y="1318.5" width="490.6" height="502.7"/></clipPath>
<g clip-path="url(#flowclip)">
<path d="M1298.4,1436.5 L1301.7,1434.8 L1304.7,1434.5 L1307.8,1434.5 L1310.8,1435.2 L1313.8,1434.2 L1316.9,1434.4 L1319.9,1434.1 L1322.9,1435.0 L1326.0,1433.8 L1329.0,1434.2 L1332.0,1434.1 L1335.4,1434.1 L1338.8,1432.3 L1342.1,1432.1 L1345.5,1431.3 L1348.9,1430.7 L1352.2,1429.2 L1355.6,1428.2 L1359.0,1427.2 L1362.3,1426.2 L1365.7,1424.7 L1369.6,1420.4 L1373.5,1417.1 L1377.5,1412.9 L1381.7,1406.9 L1385.9,1401.1 L1389.3,1396.0 L1392.6,1389.8 L1396.0,1384.3 L1399.4,1377.6 L1402.7,1372.6 L1406.1,1365.8 L1410.3,1359.1 L1414.5,1352.3 L1418.9,1347.9 L1424.6,1352.6 L1428.0,1352.9 L1431.3,1353.3 L1436.4,1365.8 L1441.4,1384.3 L1446.5,1402.8 L1451.5,1417.9 L1454.9,1423.4 L1458.3,1428.0 L1462.5,1431.0 L1466.7,1434.8 L1470.1,1435.4 L1473.4,1435.9 L1476.8,1435.4 L1480.2,1436.5 L1480.2,1436.5 L1298.4,1436.5Z" fill="#7cc9ba" fill-opacity="0.7"/>
<path d="M1160.4,1433.5 L1162.4,1433.3 L1165.4,1436.5 L1651,1436.5" fill="none" stroke="#a9d9d0" stroke-width="1.5"/>
<path d="M1298.4,1436.5 L1301.7,1434.8 L1304.7,1434.5 L1307.8,1434.5 L1310.8,1435.2 L1313.8,1434.2 L1316.9,1434.4 L1319.9,1434.1 L1322.9,1435.0 L1326.0,1433.8 L1329.0,1434.2 L1332.0,1434.1 L1335.4,1434.1 L1338.8,1432.3 L1342.1,1432.1 L1345.5,1431.3 L1348.9,1430.7 L1352.2,1429.2 L1355.6,1428.2 L1359.0,1427.2 L1362.3,1426.2 L1365.7,1424.7 L1369.6,1420.4 L1373.5,1417.1 L1377.5,1412.9 L1381.7,1406.9 L1385.9,1401.1 L1389.3,1396.0 L1392.6,1389.8 L1396.0,1384.3 L1399.4,1377.6 L1402.7,1372.6 L1406.1,1365.8 L1410.3,1359.1 L1414.5,1352.3 L1418.9,1347.9 L1424.6,1352.6 L1428.0,1352.9 L1431.3,1353.3 L1436.4,1365.8 L1441.4,1384.3 L1446.5,1402.8 L1451.5,1417.9 L1454.9,1423.4 L1458.3,1428.0 L1462.5,1431.0 L1466.7,1434.8 L1470.1,1435.4 L1473.4,1435.9 L1476.8,1435.4 L1480.2,1436.5" fill="none" stroke="#43a899" stroke-width="1.7" stroke-linejoin="round" stroke-opacity="1.0"/>
<path d="M1338.8,1491.0 L1342.1,1490.7 L1345.5,1490.4 L1348.9,1490.2 L1352.2,1490.7 L1355.6,1489.6 L1359.0,1489.7 L1362.3,1489.3 L1365.7,1489.3 L1369.1,1488.2 L1372.4,1488.0 L1375.8,1487.1 L1379.2,1487.3 L1382.5,1485.5 L1385.9,1485.3 L1389.3,1483.1 L1392.6,1481.6 L1396.0,1478.6 L1399.4,1476.9 L1402.7,1473.2 L1406.1,1469.6 L1409.5,1465.3 L1412.8,1461.7 L1416.2,1457.0 L1419.6,1451.7 L1422.9,1446.6 L1426.3,1441.0 L1429.7,1437.0 L1433.0,1431.4 L1436.4,1423.9 L1439.8,1416.3 L1444.0,1415.4 L1448.2,1413.2 L1453.2,1409.5 L1458.3,1412.9 L1463.3,1419.6 L1468.4,1427.4 L1473.4,1435.5 L1476.8,1443.1 L1480.2,1451.6 L1483.5,1456.1 L1486.9,1460.4 L1490.3,1465.1 L1493.6,1469.9 L1497.0,1474.2 L1500.4,1478.6 L1503.7,1481.1 L1507.1,1483.7 L1510.5,1486.0 L1513.8,1486.6 L1517.2,1488.7 L1520.6,1489.8 L1523.9,1491.0 L1523.9,1491.0 L1338.8,1491.0Z" fill="#ea7d86" fill-opacity="0.7"/>
<path d="M1160.4,1491.0 L1651,1491.0" fill="none" stroke="#e9b8c2" stroke-width="1.5"/>
<path d="M1338.8,1491.0 L1342.1,1490.7 L1345.5,1490.4 L1348.9,1490.2 L1352.2,1490.7 L1355.6,1489.6 L1359.0,1489.7 L1362.3,1489.3 L1365.7,1489.3 L1369.1,1488.2 L1372.4,1488.0 L1375.8,1487.1 L1379.2,1487.3 L1382.5,1485.5 L1385.9,1485.3 L1389.3,1483.1 L1392.6,1481.6 L1396.0,1478.6 L1399.4,1476.9 L1402.7,1473.2 L1406.1,1469.6 L1409.5,1465.3 L1412.8,1461.7 L1416.2,1457.0 L1419.6,1451.7 L1422.9,1446.6 L1426.3,1441.0 L1429.7,1437.0 L1433.0,1431.4 L1436.4,1423.9 L1439.8,1416.3 L1444.0,1415.4 L1448.2,1413.2 L1453.2,1409.5 L1458.3,1412.9 L1463.3,1419.6 L1468.4,1427.4 L1473.4,1435.5 L1476.8,1443.1 L1480.2,1451.6 L1483.5,1456.1 L1486.9,1460.4 L1490.3,1465.1 L1493.6,1469.9 L1497.0,1474.2 L1500.4,1478.6 L1503.7,1481.1 L1507.1,1483.7 L1510.5,1486.0 L1513.8,1486.6 L1517.2,1488.7 L1520.6,1489.8 L1523.9,1491.0" fill="none" stroke="#e0506a" stroke-width="1.7" stroke-linejoin="round" stroke-opacity="1.0"/>
<path d="M1342.1,1546.6 L1345.2,1546.3 L1348.3,1546.1 L1351.4,1546.0 L1354.6,1546.6 L1357.7,1545.6 L1360.8,1545.7 L1363.9,1545.4 L1367.0,1546.2 L1370.1,1545.0 L1373.2,1545.3 L1376.3,1544.9 L1379.4,1545.7 L1382.5,1544.9 L1385.9,1543.7 L1389.3,1542.5 L1392.6,1542.0 L1396.0,1539.9 L1399.4,1539.2 L1402.7,1536.6 L1406.1,1534.1 L1409.5,1530.9 L1412.8,1528.1 L1416.2,1525.7 L1419.6,1522.1 L1422.9,1518.2 L1426.3,1514.1 L1429.7,1511.4 L1433.0,1507.2 L1436.4,1502.7 L1439.8,1497.6 L1443.1,1493.7 L1447.3,1489.3 L1451.5,1485.3 L1454.9,1484.7 L1458.3,1485.7 L1461.6,1484.9 L1465.0,1484.2 L1468.4,1483.6 L1473.4,1487.3 L1478.5,1498.8 L1482.7,1501.9 L1486.9,1505.5 L1490.3,1510.9 L1493.6,1515.7 L1497.0,1520.6 L1500.4,1524.1 L1503.7,1527.5 L1507.1,1531.0 L1510.5,1534.1 L1513.8,1536.5 L1517.2,1538.4 L1520.6,1540.8 L1523.9,1542.5 L1527.3,1543.6 L1530.7,1544.0 L1534.0,1545.1 L1537.4,1544.8 L1540.8,1546.2 L1544.1,1546.3 L1547.5,1546.5 L1550.9,1545.8 L1554.2,1546.6 L1557.6,1546.6 L1561.0,1546.6 L1561.0,1546.6 L1342.1,1546.6Z" fill="#80eff5" fill-opacity="0.7"/>
<path d="M1160.4,1546.6 L1651,1546.6" fill="none" stroke="#b4ecee" stroke-width="1.5"/>
<path d="M1342.1,1546.6 L1345.2,1546.3 L1348.3,1546.1 L1351.4,1546.0 L1354.6,1546.6 L1357.7,1545.6 L1360.8,1545.7 L1363.9,1545.4 L1367.0,1546.2 L1370.1,1545.0 L1373.2,1545.3 L1376.3,1544.9 L1379.4,1545.7 L1382.5,1544.9 L1385.9,1543.7 L1389.3,1542.5 L1392.6,1542.0 L1396.0,1539.9 L1399.4,1539.2 L1402.7,1536.6 L1406.1,1534.1 L1409.5,1530.9 L1412.8,1528.1 L1416.2,1525.7 L1419.6,1522.1 L1422.9,1518.2 L1426.3,1514.1 L1429.7,1511.4 L1433.0,1507.2 L1436.4,1502.7 L1439.8,1497.6 L1443.1,1493.7 L1447.3,1489.3 L1451.5,1485.3 L1454.9,1484.7 L1458.3,1485.7 L1461.6,1484.9 L1465.0,1484.2 L1468.4,1483.6 L1473.4,1487.3 L1478.5,1498.8 L1482.7,1501.9 L1486.9,1505.5 L1490.3,1510.9 L1493.6,1515.7 L1497.0,1520.6 L1500.4,1524.1 L1503.7,1527.5 L1507.1,1531.0 L1510.5,1534.1 L1513.8,1536.5 L1517.2,1538.4 L1520.6,1540.8 L1523.9,1542.5 L1527.3,1543.6 L1530.7,1544.0 L1534.0,1545.1 L1537.4,1544.8 L1540.8,1546.2 L1544.1,1546.3 L1547.5,1546.5 L1550.9,1545.8 L1554.2,1546.6 L1557.6,1546.6 L1561.0,1546.6" fill="none" stroke="#74d8e0" stroke-width="1.7" stroke-linejoin="round" stroke-opacity="0.8"/>
<path d="M1362.3,1601.8 L1365.7,1601.1 L1369.1,1600.5 L1372.4,1600.1 L1375.8,1600.2 L1379.2,1598.8 L1382.5,1598.6 L1385.9,1598.1 L1389.3,1597.1 L1392.6,1594.3 L1396.0,1593.0 L1399.4,1591.1 L1402.7,1589.7 L1406.1,1586.2 L1409.5,1583.6 L1412.8,1580.5 L1416.2,1578.1 L1419.6,1574.5 L1422.9,1570.6 L1426.3,1567.0 L1429.7,1563.5 L1433.0,1559.4 L1437.0,1553.4 L1440.9,1548.5 L1444.8,1542.5 L1449.0,1539.4 L1453.2,1536.5 L1456.6,1536.3 L1460.0,1535.1 L1463.3,1537.2 L1466.7,1539.2 L1470.1,1542.6 L1473.4,1544.6 L1476.8,1547.6 L1480.2,1551.0 L1483.5,1556.1 L1486.9,1559.4 L1491.1,1564.4 L1495.3,1569.5 L1499.2,1575.6 L1503.2,1580.7 L1507.1,1586.3 L1510.5,1588.6 L1513.8,1591.7 L1517.2,1594.0 L1520.6,1596.4 L1523.9,1597.4 L1527.3,1598.4 L1530.7,1599.4 L1534.0,1599.4 L1537.4,1601.1 L1540.8,1601.8 L1540.8,1601.8 L1362.3,1601.8Z" fill="#ecb283" fill-opacity="0.7"/>
<path d="M1160.4,1601.8 L1651,1601.8" fill="none" stroke="#eccfba" stroke-width="1.5"/>
<path d="M1362.3,1601.8 L1365.7,1601.1 L1369.1,1600.5 L1372.4,1600.1 L1375.8,1600.2 L1379.2,1598.8 L1382.5,1598.6 L1385.9,1598.1 L1389.3,1597.1 L1392.6,1594.3 L1396.0,1593.0 L1399.4,1591.1 L1402.7,1589.7 L1406.1,1586.2 L1409.5,1583.6 L1412.8,1580.5 L1416.2,1578.1 L1419.6,1574.5 L1422.9,1570.6 L1426.3,1567.0 L1429.7,1563.5 L1433.0,1559.4 L1437.0,1553.4 L1440.9,1548.5 L1444.8,1542.5 L1449.0,1539.4 L1453.2,1536.5 L1456.6,1536.3 L1460.0,1535.1 L1463.3,1537.2 L1466.7,1539.2 L1470.1,1542.6 L1473.4,1544.6 L1476.8,1547.6 L1480.2,1551.0 L1483.5,1556.1 L1486.9,1559.4 L1491.1,1564.4 L1495.3,1569.5 L1499.2,1575.6 L1503.2,1580.7 L1507.1,1586.3 L1510.5,1588.6 L1513.8,1591.7 L1517.2,1594.0 L1520.6,1596.4 L1523.9,1597.4 L1527.3,1598.4 L1530.7,1599.4 L1534.0,1599.4 L1537.4,1601.1 L1540.8,1601.8" fill="none" stroke="#d9a878" stroke-width="1.7" stroke-linejoin="round" stroke-opacity="0.9"/>
<path d="M1342.1,1655.3 L1345.2,1655.0 L1348.2,1654.6 L1351.2,1654.5 L1354.2,1655.0 L1357.3,1653.8 L1360.3,1653.9 L1363.3,1653.4 L1366.4,1654.1 L1369.4,1652.8 L1372.4,1653.0 L1375.8,1652.0 L1379.2,1652.2 L1382.5,1650.3 L1385.9,1650.0 L1389.3,1649.2 L1392.6,1648.6 L1396.0,1645.9 L1399.4,1643.7 L1402.7,1641.6 L1406.1,1639.5 L1409.5,1636.8 L1412.8,1632.7 L1416.2,1629.5 L1419.6,1625.6 L1422.9,1621.6 L1426.9,1615.6 L1430.8,1610.9 L1434.7,1604.8 L1438.6,1600.9 L1442.6,1596.4 L1446.5,1593.0 L1450.4,1590.9 L1454.4,1589.0 L1458.3,1587.0 L1462.5,1590.6 L1466.7,1593.0 L1470.1,1595.8 L1473.4,1598.3 L1476.8,1601.4 L1480.2,1607.0 L1483.5,1612.5 L1486.9,1618.3 L1490.3,1623.7 L1493.6,1628.5 L1497.0,1633.4 L1500.4,1636.4 L1503.7,1639.5 L1507.1,1642.5 L1510.5,1645.2 L1513.8,1646.8 L1517.2,1648.0 L1520.6,1649.6 L1523.9,1649.9 L1527.3,1652.0 L1530.7,1652.4 L1534.0,1653.2 L1537.4,1652.7 L1540.8,1654.2 L1544.1,1654.4 L1547.5,1655.0 L1550.9,1655.3 L1550.9,1655.3 L1342.1,1655.3Z" fill="#ecf874" fill-opacity="0.7"/>
<path d="M1160.4,1655.3 L1651,1655.3" fill="none" stroke="#f0f6b0" stroke-width="1.5"/>
<path d="M1342.1,1655.3 L1345.2,1655.0 L1348.2,1654.6 L1351.2,1654.5 L1354.2,1655.0 L1357.3,1653.8 L1360.3,1653.9 L1363.3,1653.4 L1366.4,1654.1 L1369.4,1652.8 L1372.4,1653.0 L1375.8,1652.0 L1379.2,1652.2 L1382.5,1650.3 L1385.9,1650.0 L1389.3,1649.2 L1392.6,1648.6 L1396.0,1645.9 L1399.4,1643.7 L1402.7,1641.6 L1406.1,1639.5 L1409.5,1636.8 L1412.8,1632.7 L1416.2,1629.5 L1419.6,1625.6 L1422.9,1621.6 L1426.9,1615.6 L1430.8,1610.9 L1434.7,1604.8 L1438.6,1600.9 L1442.6,1596.4 L1446.5,1593.0 L1450.4,1590.9 L1454.4,1589.0 L1458.3,1587.0 L1462.5,1590.6 L1466.7,1593.0 L1470.1,1595.8 L1473.4,1598.3 L1476.8,1601.4 L1480.2,1607.0 L1483.5,1612.5 L1486.9,1618.3 L1490.3,1623.7 L1493.6,1628.5 L1497.0,1633.4 L1500.4,1636.4 L1503.7,1639.5 L1507.1,1642.5 L1510.5,1645.2 L1513.8,1646.8 L1517.2,1648.0 L1520.6,1649.6 L1523.9,1649.9 L1527.3,1652.0 L1530.7,1652.4 L1534.0,1653.2 L1537.4,1652.7 L1540.8,1654.2 L1544.1,1654.4 L1547.5,1655.0 L1550.9,1655.3" fill="none" stroke="#e6f560" stroke-width="1.7" stroke-linejoin="round" stroke-opacity="0.8"/>
<path d="M1278.1,1710.9 L1281.3,1710.7 L1284.5,1710.6 L1287.7,1710.6 L1290.8,1710.9 L1294.0,1710.3 L1297.2,1710.5 L1300.3,1710.2 L1303.5,1710.9 L1306.7,1709.9 L1309.8,1710.3 L1313.0,1710.0 L1316.2,1710.8 L1319.3,1709.6 L1322.5,1710.0 L1325.7,1709.9 L1328.9,1710.5 L1332.0,1709.9 L1335.4,1709.4 L1338.8,1709.4 L1342.1,1709.4 L1345.5,1708.5 L1348.9,1708.1 L1352.2,1708.2 L1355.6,1707.1 L1359.0,1705.7 L1362.3,1704.0 L1365.7,1703.8 L1369.1,1702.0 L1372.4,1700.8 L1375.8,1697.3 L1379.2,1695.5 L1382.5,1691.8 L1385.9,1689.0 L1389.3,1683.8 L1392.6,1680.4 L1396.0,1675.0 L1399.4,1670.5 L1402.7,1664.2 L1406.1,1659.2 L1409.5,1652.8 L1412.8,1646.9 L1416.2,1642.2 L1419.6,1638.3 L1422.9,1633.4 L1427.1,1629.6 L1431.3,1626.7 L1437.1,1621.6 L1440.1,1626.1 L1443.1,1630.1 L1447.3,1638.7 L1451.5,1646.9 L1454.9,1655.7 L1458.3,1663.7 L1462.5,1675.9 L1466.7,1687.3 L1470.1,1695.2 L1473.4,1702.5 L1477.6,1706.7 L1481.9,1710.2 L1485.2,1710.6 L1488.6,1710.1 L1492.0,1710.9 L1492.0,1710.9 L1278.1,1710.9Z" fill="#7ca45e" fill-opacity="0.7"/>
<path d="M1160.4,1707.9 L1162.4,1707.7 L1165.4,1710.9 L1651,1710.9" fill="none" stroke="#a4aea0" stroke-width="1.5"/>
<path d="M1278.1,1710.9 L1281.3,1710.7 L1284.5,1710.6 L1287.7,1710.6 L1290.8,1710.9 L1294.0,1710.3 L1297.2,1710.5 L1300.3,1710.2 L1303.5,1710.9 L1306.7,1709.9 L1309.8,1710.3 L1313.0,1710.0 L1316.2,1710.8 L1319.3,1709.6 L1322.5,1710.0 L1325.7,1709.9 L1328.9,1710.5 L1332.0,1709.9 L1335.4,1709.4 L1338.8,1709.4 L1342.1,1709.4 L1345.5,1708.5 L1348.9,1708.1 L1352.2,1708.2 L1355.6,1707.1 L1359.0,1705.7 L1362.3,1704.0 L1365.7,1703.8 L1369.1,1702.0 L1372.4,1700.8 L1375.8,1697.3 L1379.2,1695.5 L1382.5,1691.8 L1385.9,1689.0 L1389.3,1683.8 L1392.6,1680.4 L1396.0,1675.0 L1399.4,1670.5 L1402.7,1664.2 L1406.1,1659.2 L1409.5,1652.8 L1412.8,1646.9 L1416.2,1642.2 L1419.6,1638.3 L1422.9,1633.4 L1427.1,1629.6 L1431.3,1626.7 L1437.1,1621.6 L1440.1,1626.1 L1443.1,1630.1 L1447.3,1638.7 L1451.5,1646.9 L1454.9,1655.7 L1458.3,1663.7 L1462.5,1675.9 L1466.7,1687.3 L1470.1,1695.2 L1473.4,1702.5 L1477.6,1706.7 L1481.9,1710.2 L1485.2,1710.6 L1488.6,1710.1 L1492.0,1710.9" fill="none" stroke="#4c7a2b" stroke-width="2.2" stroke-linejoin="round" stroke-opacity="1.0"/>
<path d="M1308.5,1765.4 L1311.5,1765.1 L1314.5,1764.7 L1317.5,1764.6 L1320.6,1765.1 L1323.6,1763.9 L1326.6,1764.0 L1329.7,1763.5 L1332.7,1764.2 L1335.7,1762.9 L1338.8,1763.1 L1342.1,1762.2 L1345.5,1762.5 L1348.9,1760.7 L1352.2,1760.5 L1355.6,1759.8 L1359.0,1759.8 L1362.3,1758.3 L1365.7,1758.0 L1369.1,1756.1 L1372.4,1754.4 L1375.8,1751.9 L1379.2,1749.8 L1382.5,1748.5 L1385.9,1746.2 L1389.3,1742.4 L1392.6,1738.2 L1396.0,1735.4 L1399.4,1731.1 L1402.7,1725.5 L1406.1,1719.3 L1409.5,1714.2 L1413.7,1705.7 L1417.9,1697.4 L1422.1,1691.8 L1426.3,1687.3 L1429.7,1685.8 L1433.0,1684.6 L1437.2,1684.7 L1441.4,1685.6 L1444.8,1691.5 L1448.2,1697.4 L1451.5,1705.6 L1454.9,1714.2 L1458.3,1724.5 L1461.6,1734.4 L1465.9,1742.9 L1470.1,1751.3 L1473.4,1755.5 L1476.8,1758.5 L1480.2,1763.1 L1484.1,1764.2 L1488.0,1765.6 L1492.0,1766.4 L1492.0,1766.4 L1308.5,1766.4Z" fill="#d3b8b8" fill-opacity="0.7"/>
<path d="M1160.4,1766.4 L1651,1766.4" fill="none" stroke="#d6cccc" stroke-width="1.5"/>
<path d="M1308.5,1765.4 L1311.5,1765.1 L1314.5,1764.7 L1317.5,1764.6 L1320.6,1765.1 L1323.6,1763.9 L1326.6,1764.0 L1329.7,1763.5 L1332.7,1764.2 L1335.7,1762.9 L1338.8,1763.1 L1342.1,1762.2 L1345.5,1762.5 L1348.9,1760.7 L1352.2,1760.5 L1355.6,1759.8 L1359.0,1759.8 L1362.3,1758.3 L1365.7,1758.0 L1369.1,1756.1 L1372.4,1754.4 L1375.8,1751.9 L1379.2,1749.8 L1382.5,1748.5 L1385.9,1746.2 L1389.3,1742.4 L1392.6,1738.2 L1396.0,1735.4 L1399.4,1731.1 L1402.7,1725.5 L1406.1,1719.3 L1409.5,1714.2 L1413.7,1705.7 L1417.9,1697.4 L1422.1,1691.8 L1426.3,1687.3 L1429.7,1685.8 L1433.0,1684.6 L1437.2,1684.7 L1441.4,1685.6 L1444.8,1691.5 L1448.2,1697.4 L1451.5,1705.6 L1454.9,1714.2 L1458.3,1724.5 L1461.6,1734.4 L1465.9,1742.9 L1470.1,1751.3 L1473.4,1755.5 L1476.8,1758.5 L1480.2,1763.1 L1484.1,1764.2 L1488.0,1765.6 L1492.0,1766.4" fill="none" stroke="#c0a5a5" stroke-width="1.7" stroke-linejoin="round" stroke-opacity="1.0"/>
<path d="M1264.7,1821.3 L1268.0,1820.9 L1271.4,1820.6 L1274.8,1820.4 L1278.1,1820.9 L1281.5,1819.7 L1284.9,1819.7 L1288.2,1819.3 L1291.6,1819.3 L1295.0,1818.2 L1298.4,1818.0 L1301.7,1817.0 L1305.1,1817.3 L1308.5,1815.5 L1311.8,1815.3 L1315.2,1814.3 L1318.6,1814.1 L1321.9,1812.4 L1325.3,1811.7 L1328.7,1811.1 L1332.0,1810.2 L1335.4,1808.9 L1338.8,1807.6 L1342.1,1807.1 L1345.5,1805.8 L1348.9,1804.5 L1352.2,1803.5 L1355.6,1802.0 L1359.0,1799.5 L1362.3,1797.6 L1365.7,1795.1 L1369.1,1794.3 L1372.4,1791.7 L1375.8,1789.4 L1379.2,1786.4 L1382.5,1785.2 L1385.9,1782.1 L1389.3,1779.9 L1392.6,1776.7 L1396.0,1774.8 L1399.4,1771.5 L1402.7,1769.6 L1406.1,1767.9 L1409.5,1766.4 L1412.6,1764.9 L1415.7,1762.6 L1418.9,1761.4 L1422.6,1764.1 L1426.3,1766.4 L1429.7,1766.7 L1433.0,1768.1 L1436.4,1772.4 L1439.8,1776.5 L1444.0,1784.3 L1448.2,1793.4 L1451.5,1799.0 L1454.9,1804.9 L1458.3,1810.2 L1461.6,1813.4 L1465.0,1815.9 L1468.4,1818.6 L1472.6,1819.4 L1476.8,1821.3 L1476.8,1821.3 L1264.7,1821.3Z" fill="#bf69ec" fill-opacity="0.75"/>
<path d="M1160.4,1821.3 L1651,1821.3" fill="none" stroke="#ffffff" stroke-width="1.5"/>
<path d="M1264.7,1821.3 L1268.0,1820.9 L1271.4,1820.6 L1274.8,1820.4 L1278.1,1820.9 L1281.5,1819.7 L1284.9,1819.7 L1288.2,1819.3 L1291.6,1819.3 L1295.0,1818.2 L1298.4,1818.0 L1301.7,1817.0 L1305.1,1817.3 L1308.5,1815.5 L1311.8,1815.3 L1315.2,1814.3 L1318.6,1814.1 L1321.9,1812.4 L1325.3,1811.7 L1328.7,1811.1 L1332.0,1810.2 L1335.4,1808.9 L1338.8,1807.6 L1342.1,1807.1 L1345.5,1805.8 L1348.9,1804.5 L1352.2,1803.5 L1355.6,1802.0 L1359.0,1799.5 L1362.3,1797.6 L1365.7,1795.1 L1369.1,1794.3 L1372.4,1791.7 L1375.8,1789.4 L1379.2,1786.4 L1382.5,1785.2 L1385.9,1782.1 L1389.3,1779.9 L1392.6,1776.7 L1396.0,1774.8 L1399.4,1771.5 L1402.7,1769.6 L1406.1,1767.9 L1409.5,1766.4 L1412.6,1764.9 L1415.7,1762.6 L1418.9,1761.4 L1422.6,1764.1 L1426.3,1766.4 L1429.7,1766.7 L1433.0,1768.1 L1436.4,1772.4 L1439.8,1776.5 L1444.0,1784.3 L1448.2,1793.4 L1451.5,1799.0 L1454.9,1804.9 L1458.3,1810.2 L1461.6,1813.4 L1465.0,1815.9 L1468.4,1818.6 L1472.6,1819.4 L1476.8,1821.3" fill="none" stroke="#9b30d8" stroke-width="2.0" stroke-linejoin="round" stroke-opacity="1.0"/>
<path d="M1160.4,1753.0 L1162.9,1765.0 L1166.4,1821.2 L1160.4,1821.2Z" fill="#9b30d8"/>
</g>
<rect x="1160.4" y="1318.5" width="490.6" height="502.7" fill="none" stroke="#3c3c3c" stroke-width="2.2"/>
<text x="1513.8" y="1413.9" font-size="20" fill="#1c1c1c" stroke="#1c1c1c" stroke-width="0.4">Control</text>
<text x="1513.8" y="1470.1" font-size="20" fill="#1c1c1c" stroke="#1c1c1c" stroke-width="0.4">No Treatment</text>
<text x="1513.8" y="1526.4" font-size="20" fill="#1c1c1c" stroke="#1c1c1c" stroke-width="0.4">Atz 500 nM</text>
<text x="1513.8" y="1582.9" font-size="20" fill="#1c1c1c" stroke="#1c1c1c" stroke-width="0.4">Atz 100 nM</text>
<text x="1513.8" y="1639.2" font-size="20" fill="#1c1c1c" stroke="#1c1c1c" stroke-width="0.4">Atz 10 nM</text>
<text x="1513.8" y="1695.7" font-size="20" fill="#1c1c1c" stroke="#1c1c1c" stroke-width="0.4">FR-Atz 500 nM</text>
<text x="1513.8" y="1752.0" font-size="20" fill="#1c1c1c" stroke="#1c1c1c" stroke-width="0.4">FR-Atz 100 nM</text>
<text x="1513.8" y="1808.5" font-size="20" fill="#1c1c1c" stroke="#1c1c1c" stroke-width="0.4">FR-Atz 10 nM</text>
<line x1="1162.0" y1="1821.2" x2="1162.0" y2="1832.6" stroke="#1a1a1a" stroke-width="2.6"/>
<line x1="1198.7" y1="1821.2" x2="1198.7" y2="1827.6" stroke="#1a1a1a" stroke-width="1.9"/>
<line x1="1220.2" y1="1821.2" x2="1220.2" y2="1827.6" stroke="#1a1a1a" stroke-width="1.9"/>
<line x1="1235.5" y1="1821.2" x2="1235.5" y2="1827.6" stroke="#1a1a1a" stroke-width="1.9"/>
<line x1="1247.3" y1="1821.2" x2="1247.3" y2="1827.6" stroke="#1a1a1a" stroke-width="1.9"/>
<line x1="1257.0" y1="1821.2" x2="1257.0" y2="1827.6" stroke="#1a1a1a" stroke-width="1.9"/>
<line x1="1265.1" y1="1821.2" x2="1265.1" y2="1827.6" stroke="#1a1a1a" stroke-width="1.9"/>
<line x1="1272.2" y1="1821.2" x2="1272.2" y2="1827.6" stroke="#1a1a1a" stroke-width="1.9"/>
<line x1="1278.5" y1="1821.2" x2="1278.5" y2="1827.6" stroke="#1a1a1a" stroke-width="1.9"/>
<line x1="1284.0" y1="1821.2" x2="1284.0" y2="1832.6" stroke="#1a1a1a" stroke-width="2.6"/>
<line x1="1320.8" y1="1821.2" x2="1320.8" y2="1827.6" stroke="#1a1a1a" stroke-width="1.9"/>
<line x1="1342.3" y1="1821.2" x2="1342.3" y2="1827.6" stroke="#1a1a1a" stroke-width="1.9"/>
<line x1="1357.5" y1="1821.2" x2="1357.5" y2="1827.6" stroke="#1a1a1a" stroke-width="1.9"/>
<line x1="1369.4" y1="1821.2" x2="1369.4" y2="1827.6" stroke="#1a1a1a" stroke-width="1.9"/>
<line x1="1379.0" y1="1821.2" x2="1379.0" y2="1827.6" stroke="#1a1a1a" stroke-width="1.9"/>
<line x1="1387.2" y1="1821.2" x2="1387.2" y2="1827.6" stroke="#1a1a1a" stroke-width="1.9"/>
<line x1="1394.3" y1="1821.2" x2="1394.3" y2="1827.6" stroke="#1a1a1a" stroke-width="1.9"/>
<line x1="1400.5" y1="1821.2" x2="1400.5" y2="1827.6" stroke="#1a1a1a" stroke-width="1.9"/>
<line x1="1406.1" y1="1821.2" x2="1406.1" y2="1832.6" stroke="#1a1a1a" stroke-width="2.6"/>
<line x1="1442.8" y1="1821.2" x2="1442.8" y2="1827.6" stroke="#1a1a1a" stroke-width="1.9"/>
<line x1="1464.3" y1="1821.2" x2="1464.3" y2="1827.6" stroke="#1a1a1a" stroke-width="1.9"/>
<line x1="1479.6" y1="1821.2" x2="1479.6" y2="1827.6" stroke="#1a1a1a" stroke-width="1.9"/>
<line x1="1491.4" y1="1821.2" x2="1491.4" y2="1827.6" stroke="#1a1a1a" stroke-width="1.9"/>
<line x1="1501.1" y1="1821.2" x2="1501.1" y2="1827.6" stroke="#1a1a1a" stroke-width="1.9"/>
<line x1="1509.2" y1="1821.2" x2="1509.2" y2="1827.6" stroke="#1a1a1a" stroke-width="1.9"/>
<line x1="1516.3" y1="1821.2" x2="1516.3" y2="1827.6" stroke="#1a1a1a" stroke-width="1.9"/>
<line x1="1522.6" y1="1821.2" x2="1522.6" y2="1827.6" stroke="#1a1a1a" stroke-width="1.9"/>
<line x1="1528.2" y1="1821.2" x2="1528.2" y2="1832.6" stroke="#1a1a1a" stroke-width="2.6"/>
<line x1="1564.9" y1="1821.2" x2="1564.9" y2="1827.6" stroke="#1a1a1a" stroke-width="1.9"/>
<line x1="1586.4" y1="1821.2" x2="1586.4" y2="1827.6" stroke="#1a1a1a" stroke-width="1.9"/>
<line x1="1601.6" y1="1821.2" x2="1601.6" y2="1827.6" stroke="#1a1a1a" stroke-width="1.9"/>
<line x1="1613.5" y1="1821.2" x2="1613.5" y2="1827.6" stroke="#1a1a1a" stroke-width="1.9"/>
<line x1="1623.1" y1="1821.2" x2="1623.1" y2="1827.6" stroke="#1a1a1a" stroke-width="1.9"/>
<line x1="1631.3" y1="1821.2" x2="1631.3" y2="1827.6" stroke="#1a1a1a" stroke-width="1.9"/>
<line x1="1638.4" y1="1821.2" x2="1638.4" y2="1827.6" stroke="#1a1a1a" stroke-width="1.9"/>
<line x1="1644.6" y1="1821.2" x2="1644.6" y2="1827.6" stroke="#1a1a1a" stroke-width="1.9"/>
<line x1="1650.2" y1="1821.2" x2="1650.2" y2="1832.6" stroke="#1a1a1a" stroke-width="2.6"/>
<text transform="translate(1271.0 1868.7) scale(0.96 1)" font-size="26" fill="#000" stroke="#000" stroke-width="0.3">10<tspan font-size="19" dy="-9.2">1</tspan></text>
<text transform="translate(1392.0 1868.7) scale(0.96 1)" font-size="26" fill="#000" stroke="#000" stroke-width="0.3">10<tspan font-size="19" dy="-9.2">2</tspan></text>
<text transform="translate(1511.5 1868.7) scale(0.96 1)" font-size="26" fill="#000" stroke="#000" stroke-width="0.3">10<tspan font-size="19" dy="-9.2">3</tspan></text>
<text transform="translate(1630.4 1868.7) scale(0.96 1)" font-size="26" fill="#000" stroke="#000" stroke-width="0.3">10<tspan font-size="19" dy="-9.2">4</tspan></text>
<line x1="1826.1" y1="1402.2" x2="1826.1" y2="1678.8" stroke="#111" stroke-width="2.4"/>
<line x1="1816.1" y1="1677.6" x2="2139.8" y2="1677.6" stroke="#111" stroke-width="2.4"/>
<line x1="1815.1" y1="1403.4" x2="1826.1" y2="1403.4" stroke="#111" stroke-width="2.4"/>
<line x1="1815.1" y1="1471.5" x2="1826.1" y2="1471.5" stroke="#111" stroke-width="2.4"/>
<line x1="1815.1" y1="1540.5" x2="1826.1" y2="1540.5" stroke="#111" stroke-width="2.4"/>
<line x1="1815.1" y1="1609.0" x2="1826.1" y2="1609.0" stroke="#111" stroke-width="2.4"/>
<line x1="1815.1" y1="1677.6" x2="1826.1" y2="1677.6" stroke="#111" stroke-width="2.4"/>
<line x1="1826.1" y1="1677.6" x2="1826.1" y2="1688.6" stroke="#111" stroke-width="2.4"/>
<line x1="1915.2" y1="1677.6" x2="1915.2" y2="1688.6" stroke="#111" stroke-width="2.4"/>
<line x1="2004.6" y1="1677.6" x2="2004.6" y2="1688.6" stroke="#111" stroke-width="2.4"/>
<line x1="2093.4" y1="1677.6" x2="2093.4" y2="1688.6" stroke="#111" stroke-width="2.4"/>
<text x="1802.8" y="1412.8" font-size="28" text-anchor="end" stroke="#000" stroke-width="0.4">2.0</text>
<text x="1802.8" y="1481.6" font-size="28" text-anchor="end" stroke="#000" stroke-width="0.4">1.5</text>
<text x="1802.8" y="1550.6" font-size="28" text-anchor="end" stroke="#000" stroke-width="0.4">1.0</text>
<text x="1802.8" y="1619.1" font-size="28" text-anchor="end" stroke="#000" stroke-width="0.4">0.5</text>
<text x="1802.8" y="1687.7" font-size="28" text-anchor="end" stroke="#000" stroke-width="0.4">0.0</text>
<text x="1826.1" y="1720.7" font-size="28" text-anchor="middle" stroke="#000" stroke-width="0.4">0</text>
<text x="1915.2" y="1720.7" font-size="28" text-anchor="middle" stroke="#000" stroke-width="0.4">10</text>
<text x="2002.8" y="1720.7" font-size="28" text-anchor="middle" stroke="#000" stroke-width="0.4">100</text>
<text x="2100.3" y="1720.7" font-size="28" text-anchor="middle" stroke="#000" stroke-width="0.4">500</text>
<text x="1976.6" y="1760.0" font-size="28.3" text-anchor="middle" stroke="#000" stroke-width="0.4">Dose (nM)</text>
<text x="1751.0" y="1552.4" font-size="28" text-anchor="middle" stroke="#000" stroke-width="0.4" transform="rotate(-90 1751.0 1552.4)">Relative Surface PD-L1</text>
<line x1="1856.6" y1="1389.0" x2="1885.8" y2="1389.0" stroke="#111" stroke-width="3.5"/>
<circle cx="1871.2" cy="1389" r="4.2" fill="#111"/>
<text x="1903.0" y="1400.4" font-size="28.3" stroke="#000" stroke-width="0.4">Atz</text>
<line x1="1856.6" y1="1430.6" x2="1885.8" y2="1430.6" stroke="#ae1b19" stroke-width="3.5"/>
<path d="M1871.2,1425.2 L1876.6,1430.6 L1871.2,1436.0 L1865.8,1430.6Z" fill="#ae1b19"/>
<text x="1903.0" y="1440.8" font-size="28.3" stroke="#000" stroke-width="0.4">FR-Atz</text>
<path d="M1826.1,1541.8 C1830.5,1542.0 1843.7,1542.7 1852.3,1543.0 C1860.9,1543.3 1867.2,1544.0 1877.7,1543.6 C1888.2,1543.1 1902.5,1542.3 1915.2,1540.5 C1927.9,1538.7 1943.1,1535.4 1953.8,1532.9 C1964.5,1530.4 1970.7,1528.0 1979.2,1525.3 C1987.6,1522.5 1996.1,1519.6 2004.6,1516.4 C2013.0,1513.2 2021.5,1509.8 2029.9,1506.2 C2038.4,1502.7 2044.8,1500.0 2055.3,1495.3 C2065.9,1490.7 2087.1,1481.2 2093.4,1478.3" fill="none" stroke="#111" stroke-width="3.6" stroke-linecap="round"/>
<path d="M1826.1,1545.6 C1829.2,1549.9 1838.2,1563.1 1844.7,1571.5 C1851.1,1579.8 1857.8,1588.2 1865.0,1595.8 C1872.2,1603.5 1879.4,1611.0 1887.8,1617.4 C1896.2,1623.8 1906.3,1629.3 1915.2,1634.4 C1924.1,1639.6 1932.6,1644.7 1941.1,1648.4 C1949.7,1652.1 1958.9,1655.1 1966.5,1656.8 C1974.1,1658.4 1980.0,1658.6 1986.8,1658.5 C1993.6,1658.4 1999.9,1657.7 2007.1,1656.2 C2014.3,1654.8 2021.9,1652.4 2029.9,1649.6 C2038.0,1646.9 2044.8,1643.9 2055.3,1639.5 C2065.9,1635.1 2087.1,1625.7 2093.4,1623.0" fill="none" stroke="#ae1b19" stroke-width="3.6" stroke-linecap="round"/>
<circle cx="1826.1" cy="1541.0" r="4.1" fill="#111"/>
<line x1="1915.7" y1="1534.2" x2="1915.7" y2="1555.2" stroke="#111" stroke-width="1.5"/>
<line x1="1911.3" y1="1534.2" x2="1920.1" y2="1534.2" stroke="#111" stroke-width="1.5"/>
<line x1="1911.3" y1="1555.2" x2="1920.1" y2="1555.2" stroke="#111" stroke-width="1.5"/>
<circle cx="1915.7" cy="1544.3" r="4.1" fill="#111"/>
<line x1="2004.6" y1="1493.6" x2="2004.6" y2="1538.7" stroke="#111" stroke-width="1.5"/>
<line x1="2000.2" y1="1493.6" x2="2009.0" y2="1493.6" stroke="#111" stroke-width="1.5"/>
<line x1="2000.2" y1="1538.7" x2="2009.0" y2="1538.7" stroke="#111" stroke-width="1.5"/>
<circle cx="2004.6" cy="1516.4" r="4.1" fill="#111"/>
<line x1="2093.9" y1="1467.7" x2="2093.9" y2="1489.7" stroke="#111" stroke-width="1.5"/>
<line x1="2089.5" y1="1467.7" x2="2098.3" y2="1467.7" stroke="#111" stroke-width="1.5"/>
<line x1="2089.5" y1="1489.7" x2="2098.3" y2="1489.7" stroke="#111" stroke-width="1.5"/>
<circle cx="2093.9" cy="1478.8" r="4.1" fill="#111"/>
<line x1="1915.7" y1="1634.4" x2="1915.7" y2="1663.6" stroke="#ae1b19" stroke-width="1.5"/>
<line x1="1910.7" y1="1634.4" x2="1920.7" y2="1634.4" stroke="#ae1b19" stroke-width="1.5"/>
<line x1="1910.7" y1="1663.6" x2="1920.7" y2="1663.6" stroke="#ae1b19" stroke-width="1.5"/>
<path d="M1915.7,1643.4 L1921.4,1649.1 L1915.7,1654.8 L1910.0,1649.1Z" fill="#ae1b19"/>
<path d="M2004.6,1632.5 L2010.3,1638.2 L2004.6,1643.9 L1998.9,1638.2Z" fill="#ae1b19"/>
<line x1="2093.9" y1="1618.7" x2="2093.9" y2="1637.0" stroke="#ae1b19" stroke-width="1.5"/>
<line x1="2088.9" y1="1618.7" x2="2098.9" y2="1618.7" stroke="#ae1b19" stroke-width="1.5"/>
<line x1="2088.9" y1="1637.0" x2="2098.9" y2="1637.0" stroke="#ae1b19" stroke-width="1.5"/>
<path d="M2093.9,1622.4 L2099.6,1628.1 L2093.9,1633.8 L2088.2,1628.1Z" fill="#ae1b19"/>
</svg>
</body></html>
